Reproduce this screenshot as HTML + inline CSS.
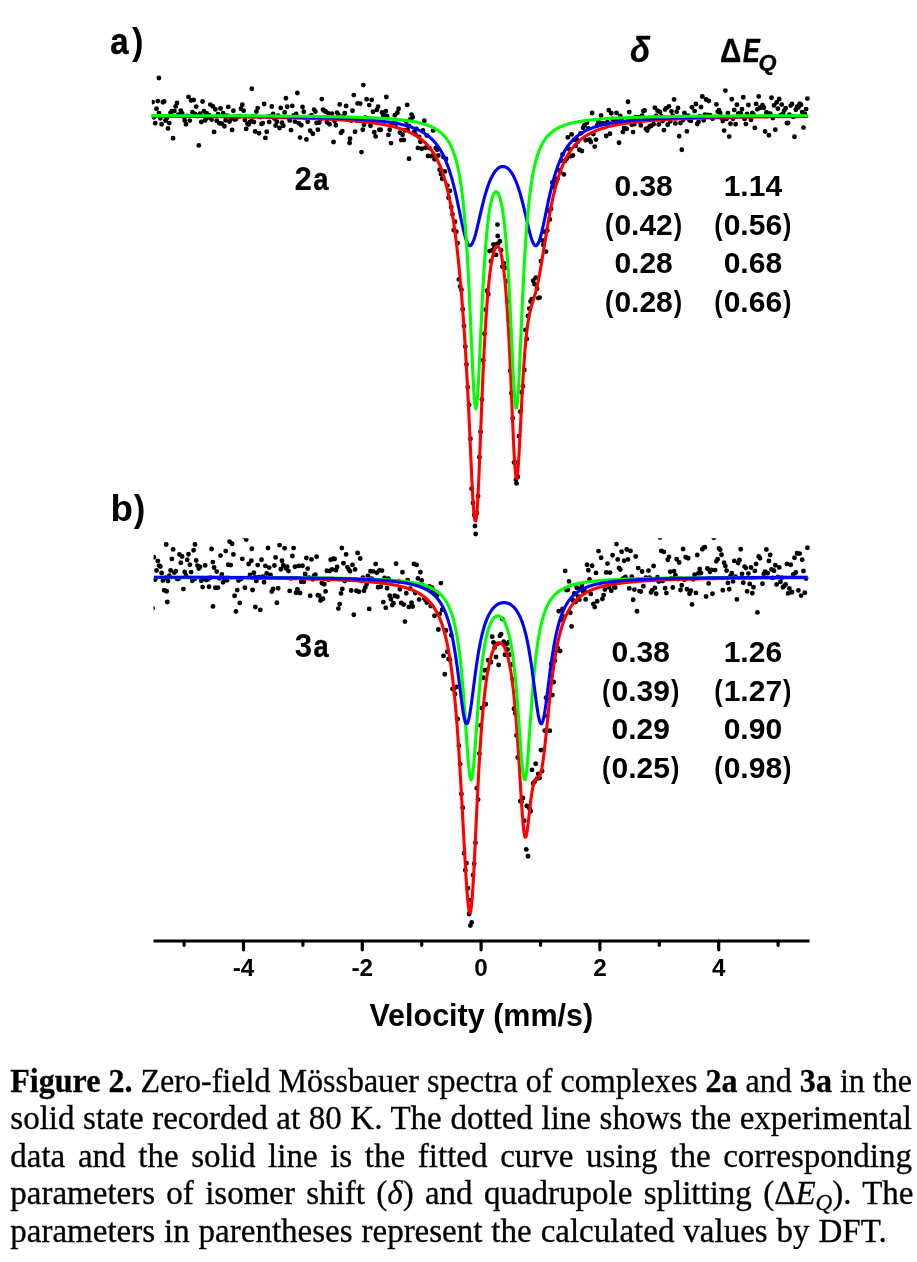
<!DOCTYPE html>
<html><head><meta charset="utf-8"><title>Figure 2</title>
<style>html,body{margin:0;padding:0;background:#fff}svg{display:block;will-change:transform}text{font-family:"Liberation Sans",sans-serif;font-weight:bold;fill:#000}.cap{font-family:"Liberation Serif",serif;font-weight:normal;stroke:#000;stroke-width:0.3px}.cap .b{font-weight:bold}.cap .i{font-style:italic}</style></head><body>
<svg width="917" height="1262" viewBox="0 0 917 1262">
<rect width="917" height="1262" fill="#fff"/>
<clipPath id="clipa"><rect x="151.8" y="0" width="660" height="560"/></clipPath>
<path d="M152.6 102.1h0M153.9 117.3h0M155.2 123.2h0M156.5 108.8h0M157.8 101.1h0M159.0 113.1h0M160.3 118.3h0M161.6 124.2h0M162.9 102.2h0M164.2 101.5h0M165.5 120.5h0M166.7 118.3h0M168.0 128.4h0M169.3 123.1h0M170.6 112.8h0M171.9 111.2h0M173.1 138.2h0M174.4 111.1h0M175.7 106.4h0M177.0 103.0h0M178.3 114.8h0M179.5 115.2h0M180.8 110.6h0M182.1 113.3h0M183.4 116.5h0M184.7 120.5h0M186.0 124.3h0M187.2 115.9h0M188.5 96.9h0M189.8 120.6h0M191.1 100.5h0M192.4 112.3h0M193.6 100.0h0M194.9 114.0h0M196.2 106.6h0M197.5 116.0h0M198.8 145.4h0M200.0 113.6h0M201.3 122.0h0M202.6 101.5h0M203.9 111.3h0M205.2 120.4h0M206.5 113.2h0M207.7 117.6h0M209.0 115.1h0M210.3 104.6h0M211.6 119.5h0M212.9 106.4h0M214.1 131.9h0M215.4 109.4h0M216.7 120.7h0M218.0 114.2h0M219.3 123.2h0M220.5 108.5h0M221.8 123.7h0M223.1 113.1h0M224.4 126.3h0M225.7 120.2h0M227.0 115.6h0M228.2 106.9h0M229.5 121.6h0M230.8 118.8h0M232.1 129.9h0M233.4 110.8h0M234.6 119.6h0M235.9 119.2h0M237.2 117.1h0M238.5 116.4h0M239.8 116.2h0M241.0 108.8h0M242.3 104.8h0M243.6 110.7h0M244.9 120.1h0M246.2 128.9h0M247.5 123.8h0M248.7 124.6h0M250.0 122.0h0M251.3 121.2h0M252.6 116.4h0M253.9 122.0h0M255.1 131.5h0M256.4 111.6h0M257.7 108.1h0M259.0 133.3h0M260.3 117.1h0M261.5 124.0h0M262.8 123.1h0M264.1 104.0h0M265.4 137.9h0M266.7 131.7h0M268.0 116.6h0M269.2 122.0h0M270.5 116.1h0M271.8 106.5h0M273.1 113.9h0M274.4 118.5h0M275.6 125.6h0M276.9 121.8h0M278.2 115.6h0M279.5 128.0h0M280.8 107.9h0M282.0 122.7h0M283.3 125.8h0M284.6 112.4h0M285.9 98.2h0M287.2 106.7h0M288.5 117.6h0M289.7 120.4h0M291.0 130.1h0M292.3 105.9h0M293.6 115.5h0M294.9 121.6h0M296.1 114.0h0M297.4 93.0h0M298.7 123.2h0M300.0 137.6h0M301.3 125.2h0M302.5 107.0h0M303.8 111.8h0M305.1 117.9h0M306.4 139.5h0M307.7 121.7h0M309.0 117.0h0M310.2 130.8h0M311.5 115.2h0M312.8 133.7h0M314.1 109.6h0M315.4 111.6h0M316.6 123.0h0M317.9 129.8h0M319.2 122.5h0M320.5 119.2h0M321.8 99.1h0M323.0 109.7h0M324.3 110.7h0M325.6 111.5h0M326.9 122.2h0M328.2 113.5h0M329.5 124.2h0M330.7 117.6h0M332.0 113.7h0M333.3 118.1h0M334.6 121.1h0M335.9 125.3h0M337.1 112.6h0M338.4 115.0h0M339.7 104.4h0M341.0 132.7h0M342.3 131.3h0M343.5 115.9h0M344.8 113.1h0M346.1 106.0h0M347.4 119.5h0M348.7 119.9h0M350.0 138.8h0M351.2 120.5h0M352.5 110.8h0M353.8 95.1h0M355.1 131.8h0M356.4 120.4h0M357.6 103.4h0M358.9 120.5h0M360.2 103.6h0M361.5 152.1h0M362.8 129.8h0M364.0 124.7h0M365.3 117.8h0M366.6 99.3h0M367.9 118.5h0M369.2 105.1h0M370.5 125.7h0M371.7 99.9h0M373.0 111.8h0M374.3 132.2h0M375.6 136.4h0M376.9 109.7h0M378.1 106.6h0M379.4 129.7h0M380.7 129.7h0M382.0 112.4h0M383.3 115.4h0M384.5 115.6h0M385.8 111.2h0M387.1 116.3h0M388.4 134.9h0M389.7 129.8h0M391.0 143.1h0M392.2 123.1h0M393.5 122.9h0M394.8 115.2h0M396.1 123.7h0M397.4 112.8h0M398.6 108.7h0M399.9 132.6h0M401.2 140.1h0M402.5 134.8h0M403.8 140.0h0M405.0 130.2h0M406.3 121.5h0M407.6 129.7h0M408.9 125.9h0M410.2 119.4h0M411.5 114.6h0M412.7 117.2h0M414.0 131.9h0M415.3 134.2h0M416.6 129.0h0M417.9 147.9h0M419.1 137.0h0M420.4 141.7h0M421.7 148.8h0M423.0 130.5h0M424.3 120.7h0M425.5 147.8h0M426.8 135.5h0M428.1 155.9h0M429.4 148.1h0M430.7 156.1h0M432.0 155.6h0M433.2 130.5h0M434.5 159.2h0M435.8 148.2h0M437.1 149.8h0M438.4 155.5h0M439.6 169.8h0M440.9 174.1h0M442.2 178.7h0M443.5 157.1h0M444.8 171.4h0M446.0 159.0h0M447.3 185.6h0M448.6 197.8h0M449.9 190.9h0M451.2 207.2h0M452.5 214.5h0M453.7 230.1h0M455.0 221.8h0M456.3 231.7h0M457.6 243.3h0M458.9 279.4h0M460.1 286.5h0M461.4 289.7h0M462.7 309.2h0M464.0 326.0h0M465.3 346.6h0M466.5 364.4h0M467.8 387.3h0M469.1 404.9h0M470.4 438.8h0M471.7 488.7h0M473.0 502.9h0M474.2 514.9h0M475.5 516.8h0M476.8 512.9h0M478.1 496.1h0M479.4 457.3h0M480.6 432.0h0M481.9 399.6h0M483.2 360.2h0M484.5 333.8h0M485.8 309.7h0M487.0 290.7h0M488.3 294.2h0M489.6 251.1h0M490.9 261.2h0M492.2 250.3h0M493.5 244.5h0M494.7 247.4h0M496.0 254.9h0M497.3 244.2h0M498.6 243.1h0M499.9 241.3h0M501.1 250.3h0M502.4 266.7h0M503.7 263.2h0M505.0 267.7h0M506.3 281.3h0M507.5 301.2h0M508.8 320.8h0M510.1 370.8h0M511.4 393.3h0M512.7 418.3h0M514.0 462.4h0M515.2 462.5h0M516.5 483.4h0M517.8 476.8h0M519.1 436.2h0M520.4 411.8h0M521.6 392.3h0M522.9 386.3h0M524.2 370.0h0M525.5 329.9h0M526.8 339.0h0M528.0 315.9h0M529.3 308.6h0M530.6 301.5h0M531.9 299.1h0M533.2 280.7h0M534.5 284.3h0M535.7 277.6h0M537.0 288.8h0M538.3 298.1h0M539.6 297.6h0M540.9 261.2h0M542.1 240.4h0M543.4 244.9h0M544.7 231.8h0M546.0 251.6h0M547.3 230.5h0M548.5 210.7h0M549.8 219.5h0M551.1 209.1h0M552.4 182.4h0M553.7 187.0h0M555.0 184.5h0M556.2 182.1h0M557.5 178.7h0M558.8 170.1h0M560.1 171.4h0M561.4 160.5h0M562.6 154.4h0M563.9 174.4h0M565.2 160.7h0M566.5 159.0h0M567.8 137.4h0M569.0 148.9h0M570.3 156.3h0M571.6 134.4h0M572.9 155.5h0M574.2 139.8h0M575.5 145.9h0M576.7 139.4h0M578.0 141.5h0M579.3 149.7h0M580.6 133.4h0M581.9 151.0h0M583.1 127.8h0M584.4 125.5h0M585.7 140.2h0M587.0 122.5h0M588.3 128.4h0M589.5 139.8h0M590.8 142.0h0M592.1 113.0h0M593.4 134.1h0M594.7 146.6h0M596.0 139.6h0M597.2 125.4h0M598.5 121.5h0M599.8 123.9h0M601.1 115.4h0M602.4 123.4h0M603.6 123.7h0M604.9 123.7h0M606.2 136.0h0M607.5 122.2h0M608.8 110.2h0M610.0 133.8h0M611.3 113.3h0M612.6 118.9h0M613.9 121.6h0M615.2 119.4h0M616.5 112.9h0M617.7 119.8h0M619.0 142.7h0M620.3 115.9h0M621.6 120.2h0M622.9 131.9h0M624.1 128.1h0M625.4 128.1h0M626.7 128.9h0M628.0 101.8h0M629.3 112.1h0M630.5 121.4h0M631.8 124.7h0M633.1 132.1h0M634.4 124.1h0M635.7 117.3h0M637.0 119.8h0M638.2 117.2h0M639.5 121.5h0M640.8 125.4h0M642.1 115.6h0M643.4 111.0h0M644.6 110.5h0M645.9 128.9h0M647.2 130.6h0M648.5 127.7h0M649.8 126.3h0M651.0 126.0h0M652.3 118.0h0M653.6 124.2h0M654.9 107.8h0M656.2 115.8h0M657.5 110.6h0M658.7 124.4h0M660.0 111.9h0M661.3 116.3h0M662.6 121.1h0M663.9 130.1h0M665.1 109.6h0M666.4 108.1h0M667.7 124.8h0M669.0 106.4h0M670.3 121.2h0M671.5 111.4h0M672.8 115.7h0M674.1 99.4h0M675.4 123.4h0M676.7 111.8h0M678.0 107.9h0M679.2 136.2h0M680.5 123.1h0M681.8 149.7h0M683.1 120.1h0M684.4 112.9h0M685.6 117.2h0M686.9 131.4h0M688.2 115.8h0M689.5 120.3h0M690.8 120.9h0M692.0 107.3h0M693.3 117.1h0M694.6 111.1h0M695.9 104.0h0M697.2 124.0h0M698.5 122.0h0M699.7 116.4h0M701.0 107.0h0M702.3 96.5h0M703.6 120.2h0M704.9 114.6h0M706.1 99.5h0M707.4 114.9h0M708.7 101.0h0M710.0 115.1h0M711.3 116.7h0M712.5 118.7h0M713.8 117.4h0M715.1 116.9h0M716.4 104.4h0M717.7 111.6h0M719.0 110.3h0M720.2 112.9h0M721.5 117.7h0M722.8 121.0h0M724.1 130.6h0M725.4 90.6h0M726.6 118.8h0M727.9 113.1h0M729.2 136.6h0M730.5 123.8h0M731.8 99.2h0M733.0 118.7h0M734.3 109.9h0M735.6 124.3h0M736.9 104.8h0M738.2 113.8h0M739.5 113.5h0M740.7 113.8h0M742.0 109.2h0M743.3 97.2h0M744.6 119.1h0M745.9 124.1h0M747.1 114.0h0M748.4 105.0h0M749.7 116.5h0M751.0 119.9h0M752.3 112.9h0M753.5 114.4h0M754.8 127.9h0M756.1 103.9h0M757.4 109.2h0M758.7 96.4h0M760.0 107.8h0M761.2 107.4h0M762.5 105.3h0M763.8 107.8h0M765.1 131.5h0M766.4 112.5h0M767.6 113.3h0M768.9 135.2h0M770.2 113.7h0M771.5 97.8h0M772.8 118.1h0M774.0 105.4h0M775.3 129.8h0M776.6 102.4h0M777.9 108.7h0M779.2 99.0h0M780.5 115.1h0M781.7 104.6h0M783.0 113.6h0M784.3 110.6h0M785.6 108.3h0M786.9 123.1h0M788.1 123.0h0M789.4 114.7h0M790.7 105.6h0M792.0 103.9h0M793.3 116.7h0M794.5 136.8h0M795.8 109.7h0M797.1 106.6h0M798.4 107.4h0M799.7 103.6h0M801.0 104.8h0M802.2 112.1h0M803.5 127.6h0M804.8 114.0h0M806.1 109.1h0M807.4 98.6h0M475.0 526.0h0M475.7 534.0h0M516.0 479.6h0M158.9 78.0h0M251.8 88.7h0M363.3 85.1h0M386.3 97.0h0M407.2 104.9h0M333.5 142.0h0M349.6 143.0h0M409.0 158.8h0M497.5 224.6h0M497.7 236.0h0" stroke="#000" stroke-width="4.9" stroke-linecap="round" fill="none" clip-path="url(#clipa)"/>
<path d="M151.8 116.2 L152.8 116.2 L153.8 116.2 L154.8 116.2 L155.8 116.2 L156.8 116.2 L157.8 116.2 L158.8 116.2 L159.8 116.2 L160.8 116.2 L161.8 116.3 L162.8 116.3 L163.8 116.3 L164.8 116.3 L165.8 116.3 L166.8 116.3 L167.8 116.3 L168.8 116.3 L169.8 116.3 L170.8 116.3 L171.8 116.3 L172.8 116.3 L173.8 116.3 L174.8 116.3 L175.8 116.3 L176.8 116.3 L177.8 116.4 L178.8 116.4 L179.8 116.4 L180.8 116.4 L181.8 116.4 L182.8 116.4 L183.8 116.4 L184.8 116.4 L185.8 116.4 L186.8 116.4 L187.8 116.4 L188.8 116.4 L189.8 116.4 L190.8 116.4 L191.8 116.5 L192.8 116.5 L193.8 116.5 L194.8 116.5 L195.8 116.5 L196.8 116.5 L197.8 116.5 L198.8 116.5 L199.8 116.5 L200.8 116.5 L201.8 116.5 L202.8 116.5 L203.8 116.6 L204.8 116.6 L205.8 116.6 L206.8 116.6 L207.8 116.6 L208.8 116.6 L209.8 116.6 L210.8 116.6 L211.8 116.6 L212.8 116.6 L213.8 116.6 L214.8 116.7 L215.8 116.7 L216.8 116.7 L217.8 116.7 L218.8 116.7 L219.8 116.7 L220.8 116.7 L221.8 116.7 L222.8 116.7 L223.8 116.7 L224.8 116.8 L225.8 116.8 L226.8 116.8 L227.8 116.8 L228.8 116.8 L229.8 116.8 L230.8 116.8 L231.8 116.8 L232.8 116.8 L233.8 116.9 L234.8 116.9 L235.8 116.9 L236.8 116.9 L237.8 116.9 L238.8 116.9 L239.8 116.9 L240.8 116.9 L241.8 117.0 L242.8 117.0 L243.8 117.0 L244.8 117.0 L245.8 117.0 L246.8 117.0 L247.8 117.0 L248.8 117.1 L249.8 117.1 L250.8 117.1 L251.8 117.1 L252.8 117.1 L253.8 117.1 L254.8 117.1 L255.8 117.2 L256.8 117.2 L257.8 117.2 L258.8 117.2 L259.8 117.2 L260.8 117.2 L261.8 117.3 L262.8 117.3 L263.8 117.3 L264.8 117.3 L265.8 117.3 L266.8 117.3 L267.8 117.4 L268.8 117.4 L269.8 117.4 L270.8 117.4 L271.8 117.4 L272.8 117.5 L273.8 117.5 L274.8 117.5 L275.8 117.5 L276.8 117.5 L277.8 117.6 L278.8 117.6 L279.8 117.6 L280.8 117.6 L281.8 117.7 L282.8 117.7 L283.8 117.7 L284.8 117.7 L285.8 117.7 L286.8 117.8 L287.8 117.8 L288.8 117.8 L289.8 117.8 L290.8 117.9 L291.8 117.9 L292.8 117.9 L293.8 118.0 L294.8 118.0 L295.8 118.0 L296.8 118.0 L297.8 118.1 L298.8 118.1 L299.8 118.1 L300.8 118.2 L301.8 118.2 L302.8 118.2 L303.8 118.2 L304.8 118.3 L305.8 118.3 L306.8 118.3 L307.8 118.4 L308.8 118.4 L309.8 118.4 L310.8 118.5 L311.8 118.5 L312.8 118.6 L313.8 118.6 L314.8 118.6 L315.8 118.7 L316.8 118.7 L317.8 118.7 L318.8 118.8 L319.8 118.8 L320.8 118.9 L321.8 118.9 L322.8 119.0 L323.8 119.0 L324.8 119.0 L325.8 119.1 L326.8 119.1 L327.8 119.2 L328.8 119.2 L329.8 119.3 L330.8 119.3 L331.8 119.4 L332.8 119.4 L333.8 119.5 L334.8 119.5 L335.8 119.6 L336.8 119.7 L337.8 119.7 L338.8 119.8 L339.8 119.8 L340.8 119.9 L341.8 120.0 L342.8 120.0 L343.8 120.1 L344.8 120.2 L345.8 120.2 L346.8 120.3 L347.8 120.4 L348.8 120.4 L349.8 120.5 L350.8 120.6 L351.8 120.7 L352.8 120.8 L353.8 120.8 L354.8 120.9 L355.8 121.0 L356.8 121.1 L357.8 121.2 L358.8 121.3 L359.8 121.4 L360.8 121.5 L361.8 121.6 L362.8 121.7 L363.8 121.8 L364.8 121.9 L365.8 122.0 L366.8 122.1 L367.8 122.2 L368.8 122.4 L369.8 122.5 L370.8 122.6 L371.8 122.7 L372.8 122.9 L373.8 123.0 L374.8 123.1 L375.8 123.3 L376.8 123.4 L377.8 123.6 L378.8 123.7 L379.8 123.9 L380.8 124.1 L381.8 124.2 L382.8 124.4 L383.8 124.6 L384.8 124.8 L385.8 125.0 L386.8 125.2 L387.8 125.4 L388.8 125.6 L389.8 125.8 L390.8 126.0 L391.8 126.3 L392.8 126.5 L393.8 126.8 L394.8 127.0 L395.8 127.3 L396.8 127.6 L397.8 127.9 L398.8 128.2 L399.8 128.5 L400.8 128.8 L401.8 129.1 L402.8 129.5 L403.8 129.8 L404.8 130.2 L405.8 130.6 L406.8 131.0 L407.8 131.4 L408.8 131.9 L409.8 132.3 L410.8 132.8 L411.8 133.3 L412.8 133.8 L413.8 134.4 L414.8 135.0 L415.8 135.5 L416.8 136.2 L417.8 136.8 L418.8 137.5 L419.8 138.2 L420.8 139.0 L421.8 139.8 L422.8 140.6 L423.8 141.5 L424.8 142.4 L425.8 143.4 L426.8 144.5 L427.8 145.6 L428.8 146.7 L429.8 147.9 L430.8 149.2 L431.8 150.6 L432.8 152.1 L433.8 153.6 L434.8 155.3 L435.8 157.1 L436.8 159.0 L437.8 161.0 L438.8 163.1 L439.8 165.4 L440.8 167.9 L441.8 170.5 L442.8 173.3 L443.8 176.4 L444.8 179.6 L445.8 183.2 L446.8 187.0 L447.8 191.0 L448.8 195.5 L449.8 200.2 L450.8 205.4 L451.8 210.9 L452.8 217.0 L453.8 223.5 L454.8 230.5 L455.8 238.1 L456.8 246.3 L457.8 255.1 L458.8 264.7 L459.8 275.0 L460.8 286.0 L461.8 298.0 L462.8 310.9 L463.8 324.7 L464.8 339.7 L465.8 356.0 L466.8 373.5 L467.8 392.4 L468.8 412.8 L469.8 434.3 L470.8 456.5 L471.8 478.2 L472.8 497.7 L473.8 512.5 L474.8 520.2 L475.8 520.9 L476.8 514.8 L477.8 500.5 L478.8 479.5 L479.8 454.7 L480.8 428.5 L481.8 402.8 L482.8 378.9 L483.8 357.2 L484.8 338.0 L485.8 321.2 L486.8 306.6 L487.8 294.1 L488.8 283.4 L489.8 274.4 L490.8 266.8 L491.8 260.6 L492.8 255.6 L493.8 251.7 L494.8 248.8 L495.8 247.0 L496.8 246.1 L497.8 246.2 L498.8 247.3 L499.8 249.4 L500.8 252.7 L501.8 257.1 L502.8 262.9 L503.8 270.2 L504.8 279.2 L505.8 290.1 L506.8 303.0 L507.8 318.3 L508.8 336.0 L509.8 356.2 L510.8 378.5 L511.8 402.2 L512.8 426.0 L513.8 448.0 L514.8 465.6 L515.8 476.4 L516.8 478.4 L517.8 471.6 L518.8 458.0 L519.8 440.1 L520.8 420.3 L521.8 400.6 L522.8 382.3 L523.8 366.1 L524.8 352.2 L525.8 340.7 L526.8 331.3 L527.8 323.7 L528.8 317.6 L529.8 312.6 L530.8 308.5 L531.8 305.0 L532.8 301.7 L533.8 298.5 L534.8 295.2 L535.8 291.6 L536.8 287.6 L537.8 283.1 L538.8 278.3 L539.8 272.9 L540.8 267.3 L541.8 261.3 L542.8 255.2 L543.8 248.9 L544.8 242.7 L545.8 236.4 L546.8 230.3 L547.8 224.4 L548.8 218.7 L549.8 213.2 L550.8 208.0 L551.8 203.1 L552.8 198.4 L553.8 194.0 L554.8 189.9 L555.8 186.0 L556.8 182.4 L557.8 179.0 L558.8 175.8 L559.8 172.9 L560.8 170.1 L561.8 167.5 L562.8 165.0 L563.8 162.8 L564.8 160.6 L565.8 158.6 L566.8 156.8 L567.8 155.0 L568.8 153.3 L569.8 151.8 L570.8 150.3 L571.8 148.9 L572.8 147.6 L573.8 146.4 L574.8 145.3 L575.8 144.2 L576.8 143.1 L577.8 142.2 L578.8 141.2 L579.8 140.3 L580.8 139.5 L581.8 138.7 L582.8 138.0 L583.8 137.2 L584.8 136.6 L585.8 135.9 L586.8 135.3 L587.8 134.7 L588.8 134.1 L589.8 133.6 L590.8 133.1 L591.8 132.6 L592.8 132.1 L593.8 131.6 L594.8 131.2 L595.8 130.8 L596.8 130.4 L597.8 130.0 L598.8 129.6 L599.8 129.3 L600.8 128.9 L601.8 128.6 L602.8 128.3 L603.8 128.0 L604.8 127.7 L605.8 127.4 L606.8 127.1 L607.8 126.8 L608.8 126.6 L609.8 126.3 L610.8 126.1 L611.8 125.9 L612.8 125.6 L613.8 125.4 L614.8 125.2 L615.8 125.0 L616.8 124.8 L617.8 124.6 L618.8 124.4 L619.8 124.3 L620.8 124.1 L621.8 123.9 L622.8 123.8 L623.8 123.6 L624.8 123.4 L625.8 123.3 L626.8 123.2 L627.8 123.0 L628.8 122.9 L629.8 122.7 L630.8 122.6 L631.8 122.5 L632.8 122.4 L633.8 122.2 L634.8 122.1 L635.8 122.0 L636.8 121.9 L637.8 121.8 L638.8 121.7 L639.8 121.6 L640.8 121.5 L641.8 121.4 L642.8 121.3 L643.8 121.2 L644.8 121.1 L645.8 121.0 L646.8 120.9 L647.8 120.8 L648.8 120.8 L649.8 120.7 L650.8 120.6 L651.8 120.5 L652.8 120.4 L653.8 120.4 L654.8 120.3 L655.8 120.2 L656.8 120.2 L657.8 120.1 L658.8 120.0 L659.8 120.0 L660.8 119.9 L661.8 119.8 L662.8 119.8 L663.8 119.7 L664.8 119.7 L665.8 119.6 L666.8 119.5 L667.8 119.5 L668.8 119.4 L669.8 119.4 L670.8 119.3 L671.8 119.3 L672.8 119.2 L673.8 119.2 L674.8 119.1 L675.8 119.1 L676.8 119.0 L677.8 119.0 L678.8 118.9 L679.8 118.9 L680.8 118.9 L681.8 118.8 L682.8 118.8 L683.8 118.7 L684.8 118.7 L685.8 118.7 L686.8 118.6 L687.8 118.6 L688.8 118.5 L689.8 118.5 L690.8 118.5 L691.8 118.4 L692.8 118.4 L693.8 118.4 L694.8 118.3 L695.8 118.3 L696.8 118.3 L697.8 118.2 L698.8 118.2 L699.8 118.2 L700.8 118.1 L701.8 118.1 L702.8 118.1 L703.8 118.1 L704.8 118.0 L705.8 118.0 L706.8 118.0 L707.8 117.9 L708.8 117.9 L709.8 117.9 L710.8 117.9 L711.8 117.8 L712.8 117.8 L713.8 117.8 L714.8 117.8 L715.8 117.7 L716.8 117.7 L717.8 117.7 L718.8 117.7 L719.8 117.6 L720.8 117.6 L721.8 117.6 L722.8 117.6 L723.8 117.6 L724.8 117.5 L725.8 117.5 L726.8 117.5 L727.8 117.5 L728.8 117.5 L729.8 117.4 L730.8 117.4 L731.8 117.4 L732.8 117.4 L733.8 117.4 L734.8 117.3 L735.8 117.3 L736.8 117.3 L737.8 117.3 L738.8 117.3 L739.8 117.3 L740.8 117.2 L741.8 117.2 L742.8 117.2 L743.8 117.2 L744.8 117.2 L745.8 117.2 L746.8 117.1 L747.8 117.1 L748.8 117.1 L749.8 117.1 L750.8 117.1 L751.8 117.1 L752.8 117.1 L753.8 117.0 L754.8 117.0 L755.8 117.0 L756.8 117.0 L757.8 117.0 L758.8 117.0 L759.8 117.0 L760.8 116.9 L761.8 116.9 L762.8 116.9 L763.8 116.9 L764.8 116.9 L765.8 116.9 L766.8 116.9 L767.8 116.9 L768.8 116.8 L769.8 116.8 L770.8 116.8 L771.8 116.8 L772.8 116.8 L773.8 116.8 L774.8 116.8 L775.8 116.8 L776.8 116.8 L777.8 116.7 L778.8 116.7 L779.8 116.7 L780.8 116.7 L781.8 116.7 L782.8 116.7 L783.8 116.7 L784.8 116.7 L785.8 116.7 L786.8 116.6 L787.8 116.6 L788.8 116.6 L789.8 116.6 L790.8 116.6 L791.8 116.6 L792.8 116.6 L793.8 116.6 L794.8 116.6 L795.8 116.6 L796.8 116.6 L797.8 116.5 L798.8 116.5 L799.8 116.5 L800.8 116.5 L801.8 116.5 L802.8 116.5 L803.8 116.5 L804.8 116.5 L805.8 116.5 L806.8 116.5 L807.5 116.5" stroke="#ff0000" stroke-width="3.1" fill="none" stroke-linejoin="round"/>
<path d="M151.8 115.9 L152.8 115.9 L153.8 115.9 L154.8 115.9 L155.8 115.9 L156.8 115.9 L157.8 115.9 L158.8 115.9 L159.8 115.9 L160.8 115.9 L161.8 115.9 L162.8 115.9 L163.8 115.9 L164.8 115.9 L165.8 115.9 L166.8 115.9 L167.8 115.9 L168.8 116.0 L169.8 116.0 L170.8 116.0 L171.8 116.0 L172.8 116.0 L173.8 116.0 L174.8 116.0 L175.8 116.0 L176.8 116.0 L177.8 116.0 L178.8 116.0 L179.8 116.0 L180.8 116.0 L181.8 116.0 L182.8 116.0 L183.8 116.0 L184.8 116.0 L185.8 116.0 L186.8 116.0 L187.8 116.0 L188.8 116.0 L189.8 116.0 L190.8 116.1 L191.8 116.1 L192.8 116.1 L193.8 116.1 L194.8 116.1 L195.8 116.1 L196.8 116.1 L197.8 116.1 L198.8 116.1 L199.8 116.1 L200.8 116.1 L201.8 116.1 L202.8 116.1 L203.8 116.1 L204.8 116.1 L205.8 116.1 L206.8 116.1 L207.8 116.1 L208.8 116.2 L209.8 116.2 L210.8 116.2 L211.8 116.2 L212.8 116.2 L213.8 116.2 L214.8 116.2 L215.8 116.2 L216.8 116.2 L217.8 116.2 L218.8 116.2 L219.8 116.2 L220.8 116.2 L221.8 116.2 L222.8 116.2 L223.8 116.2 L224.8 116.3 L225.8 116.3 L226.8 116.3 L227.8 116.3 L228.8 116.3 L229.8 116.3 L230.8 116.3 L231.8 116.3 L232.8 116.3 L233.8 116.3 L234.8 116.3 L235.8 116.3 L236.8 116.3 L237.8 116.4 L238.8 116.4 L239.8 116.4 L240.8 116.4 L241.8 116.4 L242.8 116.4 L243.8 116.4 L244.8 116.4 L245.8 116.4 L246.8 116.4 L247.8 116.4 L248.8 116.5 L249.8 116.5 L250.8 116.5 L251.8 116.5 L252.8 116.5 L253.8 116.5 L254.8 116.5 L255.8 116.5 L256.8 116.5 L257.8 116.5 L258.8 116.6 L259.8 116.6 L260.8 116.6 L261.8 116.6 L262.8 116.6 L263.8 116.6 L264.8 116.6 L265.8 116.6 L266.8 116.6 L267.8 116.7 L268.8 116.7 L269.8 116.7 L270.8 116.7 L271.8 116.7 L272.8 116.7 L273.8 116.7 L274.8 116.7 L275.8 116.8 L276.8 116.8 L277.8 116.8 L278.8 116.8 L279.8 116.8 L280.8 116.8 L281.8 116.8 L282.8 116.9 L283.8 116.9 L284.8 116.9 L285.8 116.9 L286.8 116.9 L287.8 116.9 L288.8 117.0 L289.8 117.0 L290.8 117.0 L291.8 117.0 L292.8 117.0 L293.8 117.0 L294.8 117.1 L295.8 117.1 L296.8 117.1 L297.8 117.1 L298.8 117.1 L299.8 117.2 L300.8 117.2 L301.8 117.2 L302.8 117.2 L303.8 117.2 L304.8 117.3 L305.8 117.3 L306.8 117.3 L307.8 117.3 L308.8 117.3 L309.8 117.4 L310.8 117.4 L311.8 117.4 L312.8 117.4 L313.8 117.5 L314.8 117.5 L315.8 117.5 L316.8 117.5 L317.8 117.6 L318.8 117.6 L319.8 117.6 L320.8 117.6 L321.8 117.7 L322.8 117.7 L323.8 117.7 L324.8 117.8 L325.8 117.8 L326.8 117.8 L327.8 117.9 L328.8 117.9 L329.8 117.9 L330.8 118.0 L331.8 118.0 L332.8 118.0 L333.8 118.1 L334.8 118.1 L335.8 118.1 L336.8 118.2 L337.8 118.2 L338.8 118.2 L339.8 118.3 L340.8 118.3 L341.8 118.4 L342.8 118.4 L343.8 118.5 L344.8 118.5 L345.8 118.5 L346.8 118.6 L347.8 118.6 L348.8 118.7 L349.8 118.7 L350.8 118.8 L351.8 118.8 L352.8 118.9 L353.8 118.9 L354.8 119.0 L355.8 119.1 L356.8 119.1 L357.8 119.2 L358.8 119.2 L359.8 119.3 L360.8 119.4 L361.8 119.4 L362.8 119.5 L363.8 119.6 L364.8 119.6 L365.8 119.7 L366.8 119.8 L367.8 119.9 L368.8 119.9 L369.8 120.0 L370.8 120.1 L371.8 120.2 L372.8 120.3 L373.8 120.4 L374.8 120.5 L375.8 120.6 L376.8 120.7 L377.8 120.8 L378.8 120.9 L379.8 121.0 L380.8 121.1 L381.8 121.2 L382.8 121.3 L383.8 121.4 L384.8 121.6 L385.8 121.7 L386.8 121.8 L387.8 122.0 L388.8 122.1 L389.8 122.3 L390.8 122.4 L391.8 122.6 L392.8 122.7 L393.8 122.9 L394.8 123.1 L395.8 123.3 L396.8 123.4 L397.8 123.6 L398.8 123.8 L399.8 124.0 L400.8 124.3 L401.8 124.5 L402.8 124.7 L403.8 125.0 L404.8 125.2 L405.8 125.5 L406.8 125.8 L407.8 126.0 L408.8 126.3 L409.8 126.7 L410.8 127.0 L411.8 127.3 L412.8 127.7 L413.8 128.0 L414.8 128.4 L415.8 128.8 L416.8 129.3 L417.8 129.7 L418.8 130.2 L419.8 130.7 L420.8 131.2 L421.8 131.7 L422.8 132.3 L423.8 132.9 L424.8 133.5 L425.8 134.2 L426.8 134.9 L427.8 135.6 L428.8 136.4 L429.8 137.3 L430.8 138.1 L431.8 139.1 L432.8 140.1 L433.8 141.1 L434.8 142.2 L435.8 143.4 L436.8 144.7 L437.8 146.1 L438.8 147.5 L439.8 149.0 L440.8 150.7 L441.8 152.5 L442.8 154.3 L443.8 156.3 L444.8 158.5 L445.8 160.8 L446.8 163.3 L447.8 165.9 L448.8 168.7 L449.8 171.8 L450.8 175.0 L451.8 178.4 L452.8 182.0 L453.8 185.9 L454.8 190.0 L455.8 194.2 L456.8 198.7 L457.8 203.3 L458.8 208.1 L459.8 212.9 L460.8 217.7 L461.8 222.5 L462.8 227.1 L463.8 231.4 L464.8 235.4 L465.8 238.9 L466.8 241.7 L467.8 243.9 L468.8 245.2 L469.8 245.8 L470.8 245.5 L471.8 244.4 L472.8 242.5 L473.8 240.0 L474.8 236.9 L475.8 233.3 L476.8 229.3 L477.8 225.1 L478.8 220.8 L479.8 216.4 L480.8 212.1 L481.8 207.9 L482.8 203.8 L483.8 199.9 L484.8 196.2 L485.8 192.7 L486.8 189.5 L487.8 186.5 L488.8 183.7 L489.8 181.2 L490.8 178.9 L491.8 176.8 L492.8 175.0 L493.8 173.3 L494.8 171.8 L495.8 170.6 L496.8 169.5 L497.8 168.5 L498.8 167.8 L499.8 167.2 L500.8 166.8 L501.8 166.6 L502.8 166.5 L503.8 166.6 L504.8 166.8 L505.8 167.2 L506.8 167.7 L507.8 168.5 L508.8 169.4 L509.8 170.4 L510.8 171.7 L511.8 173.1 L512.8 174.8 L513.8 176.6 L514.8 178.7 L515.8 181.0 L516.8 183.5 L517.8 186.2 L518.8 189.2 L519.8 192.4 L520.8 195.8 L521.8 199.5 L522.8 203.4 L523.8 207.5 L524.8 211.7 L525.8 216.0 L526.8 220.4 L527.8 224.7 L528.8 228.9 L529.8 232.9 L530.8 236.5 L531.8 239.7 L532.8 242.3 L533.8 244.3 L534.8 245.4 L535.8 245.8 L536.8 245.3 L537.8 244.0 L538.8 242.0 L539.8 239.2 L540.8 235.8 L541.8 231.9 L542.8 227.6 L543.8 223.0 L544.8 218.2 L545.8 213.4 L546.8 208.6 L547.8 203.8 L548.8 199.2 L549.8 194.7 L550.8 190.4 L551.8 186.3 L552.8 182.4 L553.8 178.8 L554.8 175.3 L555.8 172.1 L556.8 169.0 L557.8 166.2 L558.8 163.5 L559.8 161.0 L560.8 158.7 L561.8 156.6 L562.8 154.5 L563.8 152.6 L564.8 150.9 L565.8 149.2 L566.8 147.7 L567.8 146.2 L568.8 144.8 L569.8 143.6 L570.8 142.4 L571.8 141.2 L572.8 140.2 L573.8 139.2 L574.8 138.2 L575.8 137.3 L576.8 136.5 L577.8 135.7 L578.8 135.0 L579.8 134.3 L580.8 133.6 L581.8 132.9 L582.8 132.3 L583.8 131.8 L584.8 131.2 L585.8 130.7 L586.8 130.2 L587.8 129.7 L588.8 129.3 L589.8 128.9 L590.8 128.5 L591.8 128.1 L592.8 127.7 L593.8 127.3 L594.8 127.0 L595.8 126.7 L596.8 126.4 L597.8 126.1 L598.8 125.8 L599.8 125.5 L600.8 125.2 L601.8 125.0 L602.8 124.7 L603.8 124.5 L604.8 124.3 L605.8 124.1 L606.8 123.9 L607.8 123.7 L608.8 123.5 L609.8 123.3 L610.8 123.1 L611.8 122.9 L612.8 122.8 L613.8 122.6 L614.8 122.4 L615.8 122.3 L616.8 122.1 L617.8 122.0 L618.8 121.8 L619.8 121.7 L620.8 121.6 L621.8 121.5 L622.8 121.3 L623.8 121.2 L624.8 121.1 L625.8 121.0 L626.8 120.9 L627.8 120.8 L628.8 120.7 L629.8 120.6 L630.8 120.5 L631.8 120.4 L632.8 120.3 L633.8 120.2 L634.8 120.1 L635.8 120.0 L636.8 120.0 L637.8 119.9 L638.8 119.8 L639.8 119.7 L640.8 119.7 L641.8 119.6 L642.8 119.5 L643.8 119.4 L644.8 119.4 L645.8 119.3 L646.8 119.2 L647.8 119.2 L648.8 119.1 L649.8 119.1 L650.8 119.0 L651.8 119.0 L652.8 118.9 L653.8 118.8 L654.8 118.8 L655.8 118.7 L656.8 118.7 L657.8 118.6 L658.8 118.6 L659.8 118.5 L660.8 118.5 L661.8 118.5 L662.8 118.4 L663.8 118.4 L664.8 118.3 L665.8 118.3 L666.8 118.2 L667.8 118.2 L668.8 118.2 L669.8 118.1 L670.8 118.1 L671.8 118.1 L672.8 118.0 L673.8 118.0 L674.8 118.0 L675.8 117.9 L676.8 117.9 L677.8 117.9 L678.8 117.8 L679.8 117.8 L680.8 117.8 L681.8 117.7 L682.8 117.7 L683.8 117.7 L684.8 117.6 L685.8 117.6 L686.8 117.6 L687.8 117.6 L688.8 117.5 L689.8 117.5 L690.8 117.5 L691.8 117.5 L692.8 117.4 L693.8 117.4 L694.8 117.4 L695.8 117.4 L696.8 117.3 L697.8 117.3 L698.8 117.3 L699.8 117.3 L700.8 117.3 L701.8 117.2 L702.8 117.2 L703.8 117.2 L704.8 117.2 L705.8 117.2 L706.8 117.1 L707.8 117.1 L708.8 117.1 L709.8 117.1 L710.8 117.1 L711.8 117.0 L712.8 117.0 L713.8 117.0 L714.8 117.0 L715.8 117.0 L716.8 117.0 L717.8 116.9 L718.8 116.9 L719.8 116.9 L720.8 116.9 L721.8 116.9 L722.8 116.9 L723.8 116.8 L724.8 116.8 L725.8 116.8 L726.8 116.8 L727.8 116.8 L728.8 116.8 L729.8 116.8 L730.8 116.7 L731.8 116.7 L732.8 116.7 L733.8 116.7 L734.8 116.7 L735.8 116.7 L736.8 116.7 L737.8 116.7 L738.8 116.6 L739.8 116.6 L740.8 116.6 L741.8 116.6 L742.8 116.6 L743.8 116.6 L744.8 116.6 L745.8 116.6 L746.8 116.6 L747.8 116.5 L748.8 116.5 L749.8 116.5 L750.8 116.5 L751.8 116.5 L752.8 116.5 L753.8 116.5 L754.8 116.5 L755.8 116.5 L756.8 116.5 L757.8 116.4 L758.8 116.4 L759.8 116.4 L760.8 116.4 L761.8 116.4 L762.8 116.4 L763.8 116.4 L764.8 116.4 L765.8 116.4 L766.8 116.4 L767.8 116.4 L768.8 116.3 L769.8 116.3 L770.8 116.3 L771.8 116.3 L772.8 116.3 L773.8 116.3 L774.8 116.3 L775.8 116.3 L776.8 116.3 L777.8 116.3 L778.8 116.3 L779.8 116.3 L780.8 116.3 L781.8 116.2 L782.8 116.2 L783.8 116.2 L784.8 116.2 L785.8 116.2 L786.8 116.2 L787.8 116.2 L788.8 116.2 L789.8 116.2 L790.8 116.2 L791.8 116.2 L792.8 116.2 L793.8 116.2 L794.8 116.2 L795.8 116.2 L796.8 116.2 L797.8 116.1 L798.8 116.1 L799.8 116.1 L800.8 116.1 L801.8 116.1 L802.8 116.1 L803.8 116.1 L804.8 116.1 L805.8 116.1 L806.8 116.1 L807.5 116.1" stroke="#0000ff" stroke-width="3.1" fill="none" stroke-linejoin="round"/>
<path d="M151.8 115.6 L152.8 115.6 L153.8 115.6 L154.8 115.6 L155.8 115.6 L156.8 115.6 L157.8 115.6 L158.8 115.6 L159.8 115.6 L160.8 115.6 L161.8 115.6 L162.8 115.6 L163.8 115.6 L164.8 115.6 L165.8 115.6 L166.8 115.6 L167.8 115.6 L168.8 115.6 L169.8 115.6 L170.8 115.6 L171.8 115.6 L172.8 115.7 L173.8 115.7 L174.8 115.7 L175.8 115.7 L176.8 115.7 L177.8 115.7 L178.8 115.7 L179.8 115.7 L180.8 115.7 L181.8 115.7 L182.8 115.7 L183.8 115.7 L184.8 115.7 L185.8 115.7 L186.8 115.7 L187.8 115.7 L188.8 115.7 L189.8 115.7 L190.8 115.7 L191.8 115.7 L192.8 115.7 L193.8 115.7 L194.8 115.7 L195.8 115.7 L196.8 115.7 L197.8 115.7 L198.8 115.7 L199.8 115.7 L200.8 115.7 L201.8 115.7 L202.8 115.7 L203.8 115.7 L204.8 115.7 L205.8 115.7 L206.8 115.7 L207.8 115.7 L208.8 115.7 L209.8 115.7 L210.8 115.8 L211.8 115.8 L212.8 115.8 L213.8 115.8 L214.8 115.8 L215.8 115.8 L216.8 115.8 L217.8 115.8 L218.8 115.8 L219.8 115.8 L220.8 115.8 L221.8 115.8 L222.8 115.8 L223.8 115.8 L224.8 115.8 L225.8 115.8 L226.8 115.8 L227.8 115.8 L228.8 115.8 L229.8 115.8 L230.8 115.8 L231.8 115.8 L232.8 115.8 L233.8 115.8 L234.8 115.8 L235.8 115.8 L236.8 115.8 L237.8 115.9 L238.8 115.9 L239.8 115.9 L240.8 115.9 L241.8 115.9 L242.8 115.9 L243.8 115.9 L244.8 115.9 L245.8 115.9 L246.8 115.9 L247.8 115.9 L248.8 115.9 L249.8 115.9 L250.8 115.9 L251.8 115.9 L252.8 115.9 L253.8 115.9 L254.8 115.9 L255.8 115.9 L256.8 115.9 L257.8 116.0 L258.8 116.0 L259.8 116.0 L260.8 116.0 L261.8 116.0 L262.8 116.0 L263.8 116.0 L264.8 116.0 L265.8 116.0 L266.8 116.0 L267.8 116.0 L268.8 116.0 L269.8 116.0 L270.8 116.0 L271.8 116.0 L272.8 116.0 L273.8 116.1 L274.8 116.1 L275.8 116.1 L276.8 116.1 L277.8 116.1 L278.8 116.1 L279.8 116.1 L280.8 116.1 L281.8 116.1 L282.8 116.1 L283.8 116.1 L284.8 116.1 L285.8 116.1 L286.8 116.1 L287.8 116.2 L288.8 116.2 L289.8 116.2 L290.8 116.2 L291.8 116.2 L292.8 116.2 L293.8 116.2 L294.8 116.2 L295.8 116.2 L296.8 116.2 L297.8 116.2 L298.8 116.3 L299.8 116.3 L300.8 116.3 L301.8 116.3 L302.8 116.3 L303.8 116.3 L304.8 116.3 L305.8 116.3 L306.8 116.3 L307.8 116.4 L308.8 116.4 L309.8 116.4 L310.8 116.4 L311.8 116.4 L312.8 116.4 L313.8 116.4 L314.8 116.4 L315.8 116.5 L316.8 116.5 L317.8 116.5 L318.8 116.5 L319.8 116.5 L320.8 116.5 L321.8 116.5 L322.8 116.6 L323.8 116.6 L324.8 116.6 L325.8 116.6 L326.8 116.6 L327.8 116.6 L328.8 116.6 L329.8 116.7 L330.8 116.7 L331.8 116.7 L332.8 116.7 L333.8 116.7 L334.8 116.8 L335.8 116.8 L336.8 116.8 L337.8 116.8 L338.8 116.8 L339.8 116.9 L340.8 116.9 L341.8 116.9 L342.8 116.9 L343.8 116.9 L344.8 117.0 L345.8 117.0 L346.8 117.0 L347.8 117.0 L348.8 117.1 L349.8 117.1 L350.8 117.1 L351.8 117.1 L352.8 117.2 L353.8 117.2 L354.8 117.2 L355.8 117.3 L356.8 117.3 L357.8 117.3 L358.8 117.3 L359.8 117.4 L360.8 117.4 L361.8 117.4 L362.8 117.5 L363.8 117.5 L364.8 117.5 L365.8 117.6 L366.8 117.6 L367.8 117.7 L368.8 117.7 L369.8 117.7 L370.8 117.8 L371.8 117.8 L372.8 117.9 L373.8 117.9 L374.8 118.0 L375.8 118.0 L376.8 118.1 L377.8 118.1 L378.8 118.2 L379.8 118.2 L380.8 118.3 L381.8 118.3 L382.8 118.4 L383.8 118.5 L384.8 118.5 L385.8 118.6 L386.8 118.6 L387.8 118.7 L388.8 118.8 L389.8 118.9 L390.8 118.9 L391.8 119.0 L392.8 119.1 L393.8 119.2 L394.8 119.3 L395.8 119.3 L396.8 119.4 L397.8 119.5 L398.8 119.6 L399.8 119.7 L400.8 119.8 L401.8 119.9 L402.8 120.1 L403.8 120.2 L404.8 120.3 L405.8 120.4 L406.8 120.6 L407.8 120.7 L408.8 120.8 L409.8 121.0 L410.8 121.1 L411.8 121.3 L412.8 121.5 L413.8 121.6 L414.8 121.8 L415.8 122.0 L416.8 122.2 L417.8 122.4 L418.8 122.7 L419.8 122.9 L420.8 123.1 L421.8 123.4 L422.8 123.7 L423.8 123.9 L424.8 124.2 L425.8 124.6 L426.8 124.9 L427.8 125.2 L428.8 125.6 L429.8 126.0 L430.8 126.4 L431.8 126.9 L432.8 127.3 L433.8 127.8 L434.8 128.4 L435.8 128.9 L436.8 129.6 L437.8 130.2 L438.8 130.9 L439.8 131.7 L440.8 132.5 L441.8 133.4 L442.8 134.3 L443.8 135.3 L444.8 136.5 L445.8 137.7 L446.8 139.0 L447.8 140.5 L448.8 142.1 L449.8 143.8 L450.8 145.7 L451.8 147.9 L452.8 150.3 L453.8 152.9 L454.8 155.9 L455.8 159.2 L456.8 162.9 L457.8 167.2 L458.8 172.0 L459.8 177.4 L460.8 183.7 L461.8 190.9 L462.8 199.2 L463.8 208.8 L464.8 219.8 L465.8 232.6 L466.8 247.4 L467.8 264.2 L468.8 283.3 L469.8 304.5 L470.8 327.2 L471.8 350.5 L472.8 372.6 L473.8 391.2 L474.8 404.0 L475.8 408.8 L476.8 405.0 L477.8 393.3 L478.8 375.6 L479.8 354.6 L480.8 332.4 L481.8 310.8 L482.8 290.8 L483.8 272.9 L484.8 257.3 L485.8 243.9 L486.8 232.5 L487.8 223.0 L488.8 215.1 L489.8 208.6 L490.8 203.3 L491.8 199.1 L492.8 196.0 L493.8 193.7 L494.8 192.3 L495.8 191.7 L496.8 191.9 L497.8 192.9 L498.8 194.7 L499.8 197.4 L500.8 201.1 L501.8 205.8 L502.8 211.7 L503.8 218.9 L504.8 227.6 L505.8 238.0 L506.8 250.3 L507.8 264.8 L508.8 281.6 L509.8 300.5 L510.8 321.4 L511.8 343.5 L512.8 365.4 L513.8 385.0 L514.8 400.0 L515.8 408.0 L516.8 407.5 L517.8 398.5 L518.8 382.5 L519.8 361.8 L520.8 338.9 L521.8 315.7 L522.8 293.7 L523.8 273.5 L524.8 255.5 L525.8 239.7 L526.8 226.0 L527.8 214.1 L528.8 203.8 L529.8 194.9 L530.8 187.2 L531.8 180.5 L532.8 174.6 L533.8 169.5 L534.8 165.0 L535.8 161.0 L536.8 157.5 L537.8 154.3 L538.8 151.5 L539.8 149.0 L540.8 146.8 L541.8 144.7 L542.8 142.9 L543.8 141.2 L544.8 139.7 L545.8 138.3 L546.8 137.1 L547.8 135.9 L548.8 134.8 L549.8 133.8 L550.8 132.9 L551.8 132.1 L552.8 131.3 L553.8 130.6 L554.8 129.9 L555.8 129.2 L556.8 128.7 L557.8 128.1 L558.8 127.6 L559.8 127.1 L560.8 126.6 L561.8 126.2 L562.8 125.8 L563.8 125.4 L564.8 125.1 L565.8 124.7 L566.8 124.4 L567.8 124.1 L568.8 123.8 L569.8 123.5 L570.8 123.3 L571.8 123.0 L572.8 122.8 L573.8 122.5 L574.8 122.3 L575.8 122.1 L576.8 121.9 L577.8 121.7 L578.8 121.6 L579.8 121.4 L580.8 121.2 L581.8 121.1 L582.8 120.9 L583.8 120.8 L584.8 120.6 L585.8 120.5 L586.8 120.4 L587.8 120.2 L588.8 120.1 L589.8 120.0 L590.8 119.9 L591.8 119.8 L592.8 119.7 L593.8 119.6 L594.8 119.5 L595.8 119.4 L596.8 119.3 L597.8 119.2 L598.8 119.1 L599.8 119.0 L600.8 119.0 L601.8 118.9 L602.8 118.8 L603.8 118.7 L604.8 118.7 L605.8 118.6 L606.8 118.5 L607.8 118.5 L608.8 118.4 L609.8 118.4 L610.8 118.3 L611.8 118.2 L612.8 118.2 L613.8 118.1 L614.8 118.1 L615.8 118.0 L616.8 118.0 L617.8 117.9 L618.8 117.9 L619.8 117.9 L620.8 117.8 L621.8 117.8 L622.8 117.7 L623.8 117.7 L624.8 117.6 L625.8 117.6 L626.8 117.6 L627.8 117.5 L628.8 117.5 L629.8 117.5 L630.8 117.4 L631.8 117.4 L632.8 117.4 L633.8 117.3 L634.8 117.3 L635.8 117.3 L636.8 117.2 L637.8 117.2 L638.8 117.2 L639.8 117.2 L640.8 117.1 L641.8 117.1 L642.8 117.1 L643.8 117.0 L644.8 117.0 L645.8 117.0 L646.8 117.0 L647.8 117.0 L648.8 116.9 L649.8 116.9 L650.8 116.9 L651.8 116.9 L652.8 116.8 L653.8 116.8 L654.8 116.8 L655.8 116.8 L656.8 116.8 L657.8 116.7 L658.8 116.7 L659.8 116.7 L660.8 116.7 L661.8 116.7 L662.8 116.7 L663.8 116.6 L664.8 116.6 L665.8 116.6 L666.8 116.6 L667.8 116.6 L668.8 116.6 L669.8 116.5 L670.8 116.5 L671.8 116.5 L672.8 116.5 L673.8 116.5 L674.8 116.5 L675.8 116.5 L676.8 116.4 L677.8 116.4 L678.8 116.4 L679.8 116.4 L680.8 116.4 L681.8 116.4 L682.8 116.4 L683.8 116.4 L684.8 116.4 L685.8 116.3 L686.8 116.3 L687.8 116.3 L688.8 116.3 L689.8 116.3 L690.8 116.3 L691.8 116.3 L692.8 116.3 L693.8 116.3 L694.8 116.2 L695.8 116.2 L696.8 116.2 L697.8 116.2 L698.8 116.2 L699.8 116.2 L700.8 116.2 L701.8 116.2 L702.8 116.2 L703.8 116.2 L704.8 116.2 L705.8 116.1 L706.8 116.1 L707.8 116.1 L708.8 116.1 L709.8 116.1 L710.8 116.1 L711.8 116.1 L712.8 116.1 L713.8 116.1 L714.8 116.1 L715.8 116.1 L716.8 116.1 L717.8 116.1 L718.8 116.0 L719.8 116.0 L720.8 116.0 L721.8 116.0 L722.8 116.0 L723.8 116.0 L724.8 116.0 L725.8 116.0 L726.8 116.0 L727.8 116.0 L728.8 116.0 L729.8 116.0 L730.8 116.0 L731.8 116.0 L732.8 116.0 L733.8 116.0 L734.8 115.9 L735.8 115.9 L736.8 115.9 L737.8 115.9 L738.8 115.9 L739.8 115.9 L740.8 115.9 L741.8 115.9 L742.8 115.9 L743.8 115.9 L744.8 115.9 L745.8 115.9 L746.8 115.9 L747.8 115.9 L748.8 115.9 L749.8 115.9 L750.8 115.9 L751.8 115.9 L752.8 115.9 L753.8 115.9 L754.8 115.9 L755.8 115.8 L756.8 115.8 L757.8 115.8 L758.8 115.8 L759.8 115.8 L760.8 115.8 L761.8 115.8 L762.8 115.8 L763.8 115.8 L764.8 115.8 L765.8 115.8 L766.8 115.8 L767.8 115.8 L768.8 115.8 L769.8 115.8 L770.8 115.8 L771.8 115.8 L772.8 115.8 L773.8 115.8 L774.8 115.8 L775.8 115.8 L776.8 115.8 L777.8 115.8 L778.8 115.8 L779.8 115.8 L780.8 115.8 L781.8 115.7 L782.8 115.7 L783.8 115.7 L784.8 115.7 L785.8 115.7 L786.8 115.7 L787.8 115.7 L788.8 115.7 L789.8 115.7 L790.8 115.7 L791.8 115.7 L792.8 115.7 L793.8 115.7 L794.8 115.7 L795.8 115.7 L796.8 115.7 L797.8 115.7 L798.8 115.7 L799.8 115.7 L800.8 115.7 L801.8 115.7 L802.8 115.7 L803.8 115.7 L804.8 115.7 L805.8 115.7 L806.8 115.7 L807.5 115.7" stroke="#00ff00" stroke-width="3.1" fill="none" stroke-linejoin="round"/>
<clipPath id="clipb"><rect x="153.6" y="538.3" width="660" height="420"/></clipPath>
<path d="M152.6 608.1h0M153.9 557.3h0M155.2 579.6h0M156.5 570.5h0M157.8 560.9h0M159.0 565.6h0M160.3 566.5h0M161.6 573.0h0M162.9 580.5h0M164.2 590.2h0M165.5 577.6h0M166.7 591.3h0M168.0 581.0h0M169.3 575.6h0M170.6 570.5h0M171.9 558.9h0M173.1 549.4h0M174.4 572.6h0M175.7 571.2h0M177.0 578.7h0M178.3 578.9h0M179.5 554.4h0M180.8 562.8h0M182.1 556.5h0M183.4 589.1h0M184.7 571.9h0M186.0 575.5h0M187.2 559.8h0M188.5 554.2h0M189.8 564.7h0M191.1 572.1h0M192.4 580.7h0M193.6 550.3h0M194.9 578.7h0M196.2 560.5h0M197.5 565.6h0M198.8 568.5h0M200.0 567.0h0M201.3 580.7h0M202.6 587.1h0M203.9 578.8h0M205.2 565.4h0M206.5 580.1h0M207.7 579.4h0M209.0 586.8h0M210.3 577.8h0M211.6 549.0h0M212.9 562.1h0M214.1 567.5h0M215.4 587.8h0M216.7 571.6h0M218.0 587.6h0M219.3 578.2h0M220.5 555.6h0M221.8 574.4h0M223.1 582.2h0M224.4 580.0h0M225.7 551.1h0M227.0 580.3h0M228.2 564.8h0M229.5 541.6h0M230.8 565.1h0M232.1 543.7h0M233.4 554.4h0M234.6 595.8h0M235.9 611.5h0M237.2 590.1h0M238.5 580.5h0M239.8 602.9h0M241.0 579.1h0M242.3 558.9h0M243.6 536.4h0M244.9 587.8h0M246.2 539.5h0M247.5 530.2h0M248.7 564.0h0M250.0 575.0h0M251.3 560.8h0M252.6 590.0h0M253.9 572.7h0M255.1 577.3h0M256.4 580.9h0M257.7 565.1h0M259.0 577.3h0M260.3 609.9h0M261.5 559.8h0M262.8 576.7h0M264.1 582.3h0M265.4 565.9h0M266.7 573.5h0M268.0 548.0h0M269.2 567.6h0M270.5 575.0h0M271.8 591.5h0M273.1 589.0h0M274.4 565.5h0M275.6 557.4h0M276.9 602.7h0M278.2 588.2h0M279.5 545.1h0M280.8 569.3h0M282.0 560.7h0M283.3 565.3h0M284.6 548.2h0M285.9 568.2h0M287.2 566.8h0M288.5 571.1h0M289.7 590.9h0M291.0 578.3h0M292.3 556.0h0M293.6 548.1h0M294.9 566.7h0M296.1 592.7h0M297.4 589.5h0M298.7 565.9h0M300.0 593.0h0M301.3 581.8h0M302.5 565.8h0M303.8 581.8h0M305.1 574.0h0M306.4 558.0h0M307.7 568.6h0M309.0 577.8h0M310.2 595.8h0M311.5 559.4h0M312.8 579.2h0M314.1 575.8h0M315.4 574.8h0M316.6 556.7h0M317.9 595.2h0M319.2 595.8h0M320.5 600.5h0M321.8 583.0h0M323.0 598.8h0M324.3 584.2h0M325.6 591.4h0M326.9 570.8h0M328.2 579.5h0M329.5 571.0h0M330.7 559.7h0M332.0 569.4h0M333.3 558.8h0M334.6 558.9h0M335.9 570.3h0M337.1 567.0h0M338.4 608.6h0M339.7 604.1h0M341.0 593.4h0M342.3 588.9h0M343.5 563.3h0M344.8 581.1h0M346.1 554.4h0M347.4 567.1h0M348.7 569.5h0M350.0 571.3h0M351.2 590.5h0M352.5 564.9h0M353.8 614.8h0M355.1 569.4h0M356.4 590.7h0M357.6 552.9h0M358.9 591.8h0M360.2 558.5h0M361.5 580.9h0M362.8 577.8h0M364.0 590.8h0M365.3 587.6h0M366.6 584.3h0M367.9 576.0h0M369.2 608.9h0M370.5 571.3h0M371.7 578.8h0M373.0 571.4h0M374.3 581.0h0M375.6 564.0h0M376.9 572.7h0M378.1 587.2h0M379.4 570.4h0M380.7 586.8h0M382.0 570.6h0M383.3 602.1h0M384.5 578.0h0M385.8 607.7h0M387.1 588.2h0M388.4 578.6h0M389.7 595.7h0M391.0 599.2h0M392.2 605.1h0M393.5 603.2h0M394.8 595.7h0M396.1 563.8h0M397.4 596.8h0M398.6 581.2h0M399.9 589.2h0M401.2 603.0h0M402.5 572.3h0M403.8 604.6h0M405.0 621.6h0M406.3 593.3h0M407.6 580.1h0M408.9 606.9h0M410.2 588.8h0M411.5 602.8h0M412.7 606.5h0M414.0 563.9h0M415.3 593.1h0M416.6 564.9h0M417.9 578.4h0M419.1 599.6h0M420.4 572.2h0M421.7 580.4h0M423.0 585.4h0M424.3 598.4h0M425.5 600.0h0M426.8 602.6h0M428.1 589.0h0M429.4 586.5h0M430.7 606.1h0M432.0 587.7h0M433.2 590.3h0M434.5 615.8h0M435.8 594.5h0M437.1 595.2h0M438.4 629.5h0M439.6 614.0h0M440.9 583.1h0M442.2 609.7h0M443.5 655.9h0M444.8 674.2h0M446.0 630.5h0M447.3 651.8h0M448.6 659.0h0M449.9 659.9h0M451.2 635.2h0M452.5 689.0h0M453.7 689.1h0M455.0 693.9h0M456.3 687.0h0M457.6 719.0h0M458.9 745.7h0M460.1 764.1h0M461.4 793.9h0M462.7 807.8h0M464.0 853.2h0M465.3 870.3h0M466.5 863.3h0M467.8 888.3h0M469.1 914.1h0M470.4 900.2h0M471.7 922.4h0M473.0 875.1h0M474.2 863.8h0M475.5 842.7h0M476.8 788.3h0M478.1 799.6h0M479.4 753.6h0M480.6 725.4h0M481.9 708.2h0M483.2 677.7h0M484.5 670.3h0M485.8 704.2h0M487.0 670.0h0M488.3 660.2h0M489.6 661.4h0M490.9 662.3h0M492.2 636.8h0M493.5 642.5h0M494.7 647.4h0M496.0 657.0h0M497.3 643.9h0M498.6 665.0h0M499.9 635.7h0M501.1 634.3h0M502.4 619.1h0M503.7 641.7h0M505.0 654.8h0M506.3 644.2h0M507.5 649.5h0M508.8 642.2h0M510.1 654.5h0M511.4 664.5h0M512.7 679.3h0M514.0 708.7h0M515.2 713.3h0M516.5 735.4h0M517.8 757.5h0M519.1 752.1h0M520.4 801.2h0M521.6 801.7h0M522.9 797.9h0M524.2 820.7h0M525.5 832.6h0M526.8 806.0h0M528.0 856.3h0M529.3 808.3h0M530.6 811.3h0M531.9 769.9h0M533.2 783.4h0M534.5 781.7h0M535.7 763.7h0M537.0 778.6h0M538.3 773.9h0M539.6 778.1h0M540.9 750.1h0M542.1 771.0h0M543.4 750.0h0M544.7 730.6h0M546.0 697.7h0M547.3 716.1h0M548.5 700.5h0M549.8 730.8h0M551.1 663.8h0M552.4 695.1h0M553.7 682.0h0M555.0 660.6h0M556.2 650.5h0M557.5 647.8h0M558.8 611.3h0M560.1 651.0h0M561.4 619.5h0M562.6 608.9h0M563.9 616.7h0M565.2 570.9h0M566.5 590.1h0M567.8 589.8h0M569.0 581.4h0M570.3 612.7h0M571.6 626.5h0M572.9 600.2h0M574.2 593.4h0M575.5 602.0h0M576.7 587.8h0M578.0 596.5h0M579.3 599.6h0M580.6 588.8h0M581.9 585.0h0M583.1 591.6h0M584.4 590.6h0M585.7 599.4h0M587.0 564.8h0M588.3 570.2h0M589.5 579.4h0M590.8 593.9h0M592.1 565.7h0M593.4 604.0h0M594.7 607.1h0M596.0 572.9h0M597.2 601.2h0M598.5 551.1h0M599.8 581.5h0M601.1 557.7h0M602.4 599.0h0M603.6 595.2h0M604.9 589.6h0M606.2 572.4h0M607.5 563.6h0M608.8 587.3h0M610.0 572.6h0M611.3 590.8h0M612.6 555.3h0M613.9 586.4h0M615.2 587.6h0M616.5 544.1h0M617.7 559.4h0M619.0 568.0h0M620.3 569.5h0M621.6 551.8h0M622.9 578.6h0M624.1 560.7h0M625.4 576.9h0M626.7 549.5h0M628.0 559.4h0M629.3 588.4h0M630.5 550.9h0M631.8 576.8h0M633.1 599.7h0M634.4 589.6h0M635.7 556.5h0M637.0 611.3h0M638.2 568.1h0M639.5 591.1h0M640.8 591.5h0M642.1 571.5h0M643.4 586.2h0M644.6 533.5h0M645.9 577.6h0M647.2 578.6h0M648.5 570.6h0M649.8 577.8h0M651.0 592.4h0M652.3 590.4h0M653.6 566.0h0M654.9 587.9h0M656.2 593.8h0M657.5 577.3h0M658.7 581.5h0M660.0 537.4h0M661.3 550.9h0M662.6 581.1h0M663.9 551.9h0M665.1 588.3h0M666.4 593.1h0M667.7 559.7h0M669.0 556.9h0M670.3 571.8h0M671.5 578.3h0M672.8 587.5h0M674.1 571.2h0M675.4 575.2h0M676.7 559.2h0M678.0 579.0h0M679.2 562.5h0M680.5 590.0h0M681.8 585.3h0M683.1 549.0h0M684.4 579.7h0M685.6 557.3h0M686.9 589.2h0M688.2 558.2h0M689.5 593.7h0M690.8 590.7h0M692.0 604.4h0M693.3 579.2h0M694.6 574.8h0M695.9 592.9h0M697.2 555.0h0M698.5 573.3h0M699.7 569.0h0M701.0 573.0h0M702.3 549.3h0M703.6 547.8h0M704.9 547.3h0M706.1 596.5h0M707.4 568.5h0M708.7 583.4h0M710.0 571.7h0M711.3 569.9h0M712.5 593.8h0M713.8 537.7h0M715.1 570.1h0M716.4 561.3h0M717.7 559.2h0M719.0 548.4h0M720.2 549.7h0M721.5 554.8h0M722.8 590.3h0M724.1 562.7h0M725.4 566.1h0M726.6 570.6h0M727.9 582.9h0M729.2 589.3h0M730.5 576.3h0M731.8 573.3h0M733.0 581.4h0M734.3 560.9h0M735.6 576.6h0M736.9 599.4h0M738.2 563.1h0M739.5 559.9h0M740.7 549.3h0M742.0 574.0h0M743.3 582.8h0M744.6 566.6h0M745.9 568.1h0M747.1 591.4h0M748.4 573.6h0M749.7 583.9h0M751.0 567.5h0M752.3 593.2h0M753.5 587.2h0M754.8 570.9h0M756.1 563.9h0M757.4 612.4h0M758.7 556.5h0M760.0 558.2h0M761.2 534.6h0M762.5 583.7h0M763.8 574.0h0M765.1 571.8h0M766.4 549.5h0M767.6 573.3h0M768.9 560.9h0M770.2 555.0h0M771.5 569.4h0M772.8 577.9h0M774.0 570.8h0M775.3 565.3h0M776.6 584.4h0M777.9 576.9h0M779.2 567.4h0M780.5 581.9h0M781.7 577.7h0M783.0 587.2h0M784.3 585.9h0M785.6 584.5h0M786.9 563.9h0M788.1 593.4h0M789.4 588.5h0M790.7 564.8h0M792.0 592.3h0M793.3 574.5h0M794.5 557.7h0M795.8 572.5h0M797.1 553.3h0M798.4 590.4h0M799.7 553.6h0M801.0 595.6h0M802.2 559.8h0M803.5 571.0h0M804.8 592.7h0M806.1 578.5h0M807.4 547.8h0M469.2 913.5h0M470.4 925.6h0M526.3 849.4h0M166.2 544.5h0M195.0 544.5h0M251.8 548.8h0M341.8 548.0h0M213.0 606.4h0M255.4 607.0h0M167.3 602.0h0" stroke="#000" stroke-width="4.9" stroke-linecap="round" fill="none" clip-path="url(#clipb)"/>
<path d="M154.0 577.5 L155.0 577.5 L156.0 577.5 L157.0 577.5 L158.0 577.5 L159.0 577.5 L160.0 577.5 L161.0 577.5 L162.0 577.5 L163.0 577.5 L164.0 577.5 L165.0 577.5 L166.0 577.5 L167.0 577.5 L168.0 577.6 L169.0 577.6 L170.0 577.6 L171.0 577.6 L172.0 577.6 L173.0 577.6 L174.0 577.6 L175.0 577.6 L176.0 577.6 L177.0 577.6 L178.0 577.6 L179.0 577.6 L180.0 577.6 L181.0 577.6 L182.0 577.6 L183.0 577.6 L184.0 577.6 L185.0 577.6 L186.0 577.6 L187.0 577.6 L188.0 577.6 L189.0 577.6 L190.0 577.6 L191.0 577.7 L192.0 577.7 L193.0 577.7 L194.0 577.7 L195.0 577.7 L196.0 577.7 L197.0 577.7 L198.0 577.7 L199.0 577.7 L200.0 577.7 L201.0 577.7 L202.0 577.7 L203.0 577.7 L204.0 577.7 L205.0 577.7 L206.0 577.7 L207.0 577.7 L208.0 577.7 L209.0 577.8 L210.0 577.8 L211.0 577.8 L212.0 577.8 L213.0 577.8 L214.0 577.8 L215.0 577.8 L216.0 577.8 L217.0 577.8 L218.0 577.8 L219.0 577.8 L220.0 577.8 L221.0 577.8 L222.0 577.8 L223.0 577.8 L224.0 577.9 L225.0 577.9 L226.0 577.9 L227.0 577.9 L228.0 577.9 L229.0 577.9 L230.0 577.9 L231.0 577.9 L232.0 577.9 L233.0 577.9 L234.0 577.9 L235.0 577.9 L236.0 577.9 L237.0 578.0 L238.0 578.0 L239.0 578.0 L240.0 578.0 L241.0 578.0 L242.0 578.0 L243.0 578.0 L244.0 578.0 L245.0 578.0 L246.0 578.0 L247.0 578.0 L248.0 578.1 L249.0 578.1 L250.0 578.1 L251.0 578.1 L252.0 578.1 L253.0 578.1 L254.0 578.1 L255.0 578.1 L256.0 578.1 L257.0 578.1 L258.0 578.2 L259.0 578.2 L260.0 578.2 L261.0 578.2 L262.0 578.2 L263.0 578.2 L264.0 578.2 L265.0 578.2 L266.0 578.2 L267.0 578.3 L268.0 578.3 L269.0 578.3 L270.0 578.3 L271.0 578.3 L272.0 578.3 L273.0 578.3 L274.0 578.3 L275.0 578.4 L276.0 578.4 L277.0 578.4 L278.0 578.4 L279.0 578.4 L280.0 578.4 L281.0 578.4 L282.0 578.5 L283.0 578.5 L284.0 578.5 L285.0 578.5 L286.0 578.5 L287.0 578.5 L288.0 578.6 L289.0 578.6 L290.0 578.6 L291.0 578.6 L292.0 578.6 L293.0 578.6 L294.0 578.7 L295.0 578.7 L296.0 578.7 L297.0 578.7 L298.0 578.7 L299.0 578.8 L300.0 578.8 L301.0 578.8 L302.0 578.8 L303.0 578.8 L304.0 578.9 L305.0 578.9 L306.0 578.9 L307.0 578.9 L308.0 578.9 L309.0 579.0 L310.0 579.0 L311.0 579.0 L312.0 579.0 L313.0 579.1 L314.0 579.1 L315.0 579.1 L316.0 579.1 L317.0 579.2 L318.0 579.2 L319.0 579.2 L320.0 579.3 L321.0 579.3 L322.0 579.3 L323.0 579.3 L324.0 579.4 L325.0 579.4 L326.0 579.4 L327.0 579.5 L328.0 579.5 L329.0 579.5 L330.0 579.6 L331.0 579.6 L332.0 579.6 L333.0 579.7 L334.0 579.7 L335.0 579.7 L336.0 579.8 L337.0 579.8 L338.0 579.9 L339.0 579.9 L340.0 580.0 L341.0 580.0 L342.0 580.0 L343.0 580.1 L344.0 580.1 L345.0 580.2 L346.0 580.2 L347.0 580.3 L348.0 580.3 L349.0 580.4 L350.0 580.4 L351.0 580.5 L352.0 580.5 L353.0 580.6 L354.0 580.6 L355.0 580.7 L356.0 580.8 L357.0 580.8 L358.0 580.9 L359.0 581.0 L360.0 581.0 L361.0 581.1 L362.0 581.2 L363.0 581.2 L364.0 581.3 L365.0 581.4 L366.0 581.5 L367.0 581.5 L368.0 581.6 L369.0 581.7 L370.0 581.8 L371.0 581.9 L372.0 582.0 L373.0 582.1 L374.0 582.2 L375.0 582.3 L376.0 582.4 L377.0 582.5 L378.0 582.6 L379.0 582.7 L380.0 582.8 L381.0 582.9 L382.0 583.1 L383.0 583.2 L384.0 583.3 L385.0 583.5 L386.0 583.6 L387.0 583.7 L388.0 583.9 L389.0 584.0 L390.0 584.2 L391.0 584.4 L392.0 584.5 L393.0 584.7 L394.0 584.9 L395.0 585.1 L396.0 585.3 L397.0 585.5 L398.0 585.7 L399.0 586.0 L400.0 586.2 L401.0 586.4 L402.0 586.7 L403.0 586.9 L404.0 587.2 L405.0 587.5 L406.0 587.8 L407.0 588.1 L408.0 588.5 L409.0 588.8 L410.0 589.2 L411.0 589.5 L412.0 589.9 L413.0 590.3 L414.0 590.8 L415.0 591.2 L416.0 591.7 L417.0 592.2 L418.0 592.7 L419.0 593.3 L420.0 593.9 L421.0 594.5 L422.0 595.2 L423.0 595.9 L424.0 596.7 L425.0 597.4 L426.0 598.3 L427.0 599.2 L428.0 600.1 L429.0 601.2 L430.0 602.3 L431.0 603.4 L432.0 604.7 L433.0 606.0 L434.0 607.5 L435.0 609.1 L436.0 610.7 L437.0 612.6 L438.0 614.5 L439.0 616.7 L440.0 619.0 L441.0 621.6 L442.0 624.3 L443.0 627.4 L444.0 630.7 L445.0 634.4 L446.0 638.4 L447.0 642.8 L448.0 647.8 L449.0 653.2 L450.0 659.2 L451.0 665.9 L452.0 673.3 L453.0 681.6 L454.0 690.8 L455.0 700.9 L456.0 712.2 L457.0 724.7 L458.0 738.3 L459.0 753.2 L460.0 769.3 L461.0 786.4 L462.0 804.4 L463.0 822.9 L464.0 841.5 L465.0 859.6 L466.0 876.5 L467.0 891.3 L468.0 903.0 L469.0 910.6 L470.0 913.0 L471.0 909.7 L472.0 900.6 L473.0 886.4 L474.0 868.3 L475.0 847.8 L476.0 826.5 L477.0 805.3 L478.0 785.3 L479.0 766.7 L480.0 749.9 L481.0 734.9 L482.0 721.6 L483.0 709.9 L484.0 699.6 L485.0 690.7 L486.0 682.8 L487.0 676.0 L488.0 670.0 L489.0 664.9 L490.0 660.4 L491.0 656.6 L492.0 653.3 L493.0 650.5 L494.0 648.3 L495.0 646.4 L496.0 644.9 L497.0 643.8 L498.0 643.1 L499.0 642.8 L500.0 642.8 L501.0 643.2 L502.0 643.9 L503.0 645.0 L504.0 646.6 L505.0 648.5 L506.0 651.0 L507.0 654.0 L508.0 657.6 L509.0 661.8 L510.0 666.7 L511.0 672.5 L512.0 679.3 L513.0 687.1 L514.0 696.1 L515.0 706.4 L516.0 718.2 L517.0 731.4 L518.0 746.0 L519.0 761.7 L520.0 778.2 L521.0 794.6 L522.0 809.9 L523.0 823.0 L524.0 832.4 L525.0 837.2 L526.0 836.8 L527.0 832.2 L528.0 824.6 L529.0 815.8 L530.0 806.8 L531.0 798.6 L532.0 791.7 L533.0 786.4 L534.0 782.6 L535.0 780.3 L536.0 779.0 L537.0 778.4 L538.0 777.9 L539.0 777.0 L540.0 775.2 L541.0 772.1 L542.0 767.5 L543.0 761.3 L544.0 753.7 L545.0 745.0 L546.0 735.4 L547.0 725.5 L548.0 715.5 L549.0 705.6 L550.0 696.2 L551.0 687.2 L552.0 678.9 L553.0 671.2 L554.0 664.1 L555.0 657.7 L556.0 651.8 L557.0 646.4 L558.0 641.6 L559.0 637.2 L560.0 633.2 L561.0 629.5 L562.0 626.2 L563.0 623.2 L564.0 620.4 L565.0 617.9 L566.0 615.6 L567.0 613.4 L568.0 611.5 L569.0 609.7 L570.0 608.0 L571.0 606.5 L572.0 605.1 L573.0 603.7 L574.0 602.5 L575.0 601.4 L576.0 600.3 L577.0 599.3 L578.0 598.4 L579.0 597.5 L580.0 596.7 L581.0 595.9 L582.0 595.2 L583.0 594.5 L584.0 593.9 L585.0 593.3 L586.0 592.7 L587.0 592.1 L588.0 591.6 L589.0 591.1 L590.0 590.7 L591.0 590.2 L592.0 589.8 L593.0 589.4 L594.0 589.0 L595.0 588.7 L596.0 588.3 L597.0 588.0 L598.0 587.7 L599.0 587.4 L600.0 587.1 L601.0 586.8 L602.0 586.6 L603.0 586.3 L604.0 586.1 L605.0 585.8 L606.0 585.6 L607.0 585.4 L608.0 585.2 L609.0 585.0 L610.0 584.8 L611.0 584.6 L612.0 584.4 L613.0 584.3 L614.0 584.1 L615.0 583.9 L616.0 583.8 L617.0 583.6 L618.0 583.5 L619.0 583.4 L620.0 583.2 L621.0 583.1 L622.0 583.0 L623.0 582.8 L624.0 582.7 L625.0 582.6 L626.0 582.5 L627.0 582.4 L628.0 582.3 L629.0 582.2 L630.0 582.1 L631.0 582.0 L632.0 581.9 L633.0 581.8 L634.0 581.7 L635.0 581.6 L636.0 581.6 L637.0 581.5 L638.0 581.4 L639.0 581.3 L640.0 581.2 L641.0 581.2 L642.0 581.1 L643.0 581.0 L644.0 581.0 L645.0 580.9 L646.0 580.8 L647.0 580.8 L648.0 580.7 L649.0 580.7 L650.0 580.6 L651.0 580.5 L652.0 580.5 L653.0 580.4 L654.0 580.4 L655.0 580.3 L656.0 580.3 L657.0 580.2 L658.0 580.2 L659.0 580.1 L660.0 580.1 L661.0 580.0 L662.0 580.0 L663.0 580.0 L664.0 579.9 L665.0 579.9 L666.0 579.8 L667.0 579.8 L668.0 579.7 L669.0 579.7 L670.0 579.7 L671.0 579.6 L672.0 579.6 L673.0 579.6 L674.0 579.5 L675.0 579.5 L676.0 579.5 L677.0 579.4 L678.0 579.4 L679.0 579.4 L680.0 579.3 L681.0 579.3 L682.0 579.3 L683.0 579.3 L684.0 579.2 L685.0 579.2 L686.0 579.2 L687.0 579.1 L688.0 579.1 L689.0 579.1 L690.0 579.1 L691.0 579.0 L692.0 579.0 L693.0 579.0 L694.0 579.0 L695.0 578.9 L696.0 578.9 L697.0 578.9 L698.0 578.9 L699.0 578.9 L700.0 578.8 L701.0 578.8 L702.0 578.8 L703.0 578.8 L704.0 578.8 L705.0 578.7 L706.0 578.7 L707.0 578.7 L708.0 578.7 L709.0 578.7 L710.0 578.6 L711.0 578.6 L712.0 578.6 L713.0 578.6 L714.0 578.6 L715.0 578.6 L716.0 578.5 L717.0 578.5 L718.0 578.5 L719.0 578.5 L720.0 578.5 L721.0 578.5 L722.0 578.4 L723.0 578.4 L724.0 578.4 L725.0 578.4 L726.0 578.4 L727.0 578.4 L728.0 578.4 L729.0 578.3 L730.0 578.3 L731.0 578.3 L732.0 578.3 L733.0 578.3 L734.0 578.3 L735.0 578.3 L736.0 578.3 L737.0 578.2 L738.0 578.2 L739.0 578.2 L740.0 578.2 L741.0 578.2 L742.0 578.2 L743.0 578.2 L744.0 578.2 L745.0 578.2 L746.0 578.1 L747.0 578.1 L748.0 578.1 L749.0 578.1 L750.0 578.1 L751.0 578.1 L752.0 578.1 L753.0 578.1 L754.0 578.1 L755.0 578.0 L756.0 578.0 L757.0 578.0 L758.0 578.0 L759.0 578.0 L760.0 578.0 L761.0 578.0 L762.0 578.0 L763.0 578.0 L764.0 578.0 L765.0 578.0 L766.0 578.0 L767.0 577.9 L768.0 577.9 L769.0 577.9 L770.0 577.9 L771.0 577.9 L772.0 577.9 L773.0 577.9 L774.0 577.9 L775.0 577.9 L776.0 577.9 L777.0 577.9 L778.0 577.9 L779.0 577.9 L780.0 577.8 L781.0 577.8 L782.0 577.8 L783.0 577.8 L784.0 577.8 L785.0 577.8 L786.0 577.8 L787.0 577.8 L788.0 577.8 L789.0 577.8 L790.0 577.8 L791.0 577.8 L792.0 577.8 L793.0 577.8 L794.0 577.8 L795.0 577.7 L796.0 577.7 L797.0 577.7 L798.0 577.7 L799.0 577.7 L800.0 577.7 L801.0 577.7 L802.0 577.7 L803.0 577.7 L804.0 577.7 L805.0 577.7 L806.0 577.7 L807.0 577.7 L807.5 577.7" stroke="#ff0000" stroke-width="3.1" fill="none" stroke-linejoin="round"/>
<path d="M154.0 577.2 L155.0 577.2 L156.0 577.2 L157.0 577.2 L158.0 577.2 L159.0 577.2 L160.0 577.2 L161.0 577.2 L162.0 577.2 L163.0 577.2 L164.0 577.2 L165.0 577.2 L166.0 577.2 L167.0 577.2 L168.0 577.2 L169.0 577.2 L170.0 577.2 L171.0 577.2 L172.0 577.2 L173.0 577.2 L174.0 577.2 L175.0 577.2 L176.0 577.2 L177.0 577.2 L178.0 577.2 L179.0 577.2 L180.0 577.2 L181.0 577.2 L182.0 577.2 L183.0 577.2 L184.0 577.2 L185.0 577.2 L186.0 577.2 L187.0 577.2 L188.0 577.2 L189.0 577.2 L190.0 577.2 L191.0 577.2 L192.0 577.2 L193.0 577.2 L194.0 577.2 L195.0 577.2 L196.0 577.2 L197.0 577.3 L198.0 577.3 L199.0 577.3 L200.0 577.3 L201.0 577.3 L202.0 577.3 L203.0 577.3 L204.0 577.3 L205.0 577.3 L206.0 577.3 L207.0 577.3 L208.0 577.3 L209.0 577.3 L210.0 577.3 L211.0 577.3 L212.0 577.3 L213.0 577.3 L214.0 577.3 L215.0 577.3 L216.0 577.3 L217.0 577.3 L218.0 577.3 L219.0 577.3 L220.0 577.3 L221.0 577.3 L222.0 577.3 L223.0 577.3 L224.0 577.3 L225.0 577.3 L226.0 577.3 L227.0 577.3 L228.0 577.3 L229.0 577.3 L230.0 577.3 L231.0 577.3 L232.0 577.4 L233.0 577.4 L234.0 577.4 L235.0 577.4 L236.0 577.4 L237.0 577.4 L238.0 577.4 L239.0 577.4 L240.0 577.4 L241.0 577.4 L242.0 577.4 L243.0 577.4 L244.0 577.4 L245.0 577.4 L246.0 577.4 L247.0 577.4 L248.0 577.4 L249.0 577.4 L250.0 577.4 L251.0 577.4 L252.0 577.4 L253.0 577.4 L254.0 577.4 L255.0 577.4 L256.0 577.4 L257.0 577.5 L258.0 577.5 L259.0 577.5 L260.0 577.5 L261.0 577.5 L262.0 577.5 L263.0 577.5 L264.0 577.5 L265.0 577.5 L266.0 577.5 L267.0 577.5 L268.0 577.5 L269.0 577.5 L270.0 577.5 L271.0 577.5 L272.0 577.5 L273.0 577.5 L274.0 577.5 L275.0 577.6 L276.0 577.6 L277.0 577.6 L278.0 577.6 L279.0 577.6 L280.0 577.6 L281.0 577.6 L282.0 577.6 L283.0 577.6 L284.0 577.6 L285.0 577.6 L286.0 577.6 L287.0 577.6 L288.0 577.6 L289.0 577.6 L290.0 577.7 L291.0 577.7 L292.0 577.7 L293.0 577.7 L294.0 577.7 L295.0 577.7 L296.0 577.7 L297.0 577.7 L298.0 577.7 L299.0 577.7 L300.0 577.7 L301.0 577.7 L302.0 577.8 L303.0 577.8 L304.0 577.8 L305.0 577.8 L306.0 577.8 L307.0 577.8 L308.0 577.8 L309.0 577.8 L310.0 577.8 L311.0 577.8 L312.0 577.9 L313.0 577.9 L314.0 577.9 L315.0 577.9 L316.0 577.9 L317.0 577.9 L318.0 577.9 L319.0 577.9 L320.0 577.9 L321.0 578.0 L322.0 578.0 L323.0 578.0 L324.0 578.0 L325.0 578.0 L326.0 578.0 L327.0 578.0 L328.0 578.1 L329.0 578.1 L330.0 578.1 L331.0 578.1 L332.0 578.1 L333.0 578.1 L334.0 578.1 L335.0 578.2 L336.0 578.2 L337.0 578.2 L338.0 578.2 L339.0 578.2 L340.0 578.3 L341.0 578.3 L342.0 578.3 L343.0 578.3 L344.0 578.3 L345.0 578.3 L346.0 578.4 L347.0 578.4 L348.0 578.4 L349.0 578.4 L350.0 578.5 L351.0 578.5 L352.0 578.5 L353.0 578.5 L354.0 578.6 L355.0 578.6 L356.0 578.6 L357.0 578.6 L358.0 578.7 L359.0 578.7 L360.0 578.7 L361.0 578.7 L362.0 578.8 L363.0 578.8 L364.0 578.8 L365.0 578.9 L366.0 578.9 L367.0 578.9 L368.0 579.0 L369.0 579.0 L370.0 579.1 L371.0 579.1 L372.0 579.1 L373.0 579.2 L374.0 579.2 L375.0 579.3 L376.0 579.3 L377.0 579.3 L378.0 579.4 L379.0 579.4 L380.0 579.5 L381.0 579.5 L382.0 579.6 L383.0 579.6 L384.0 579.7 L385.0 579.8 L386.0 579.8 L387.0 579.9 L388.0 579.9 L389.0 580.0 L390.0 580.1 L391.0 580.2 L392.0 580.2 L393.0 580.3 L394.0 580.4 L395.0 580.5 L396.0 580.5 L397.0 580.6 L398.0 580.7 L399.0 580.8 L400.0 580.9 L401.0 581.0 L402.0 581.1 L403.0 581.2 L404.0 581.3 L405.0 581.5 L406.0 581.6 L407.0 581.7 L408.0 581.9 L409.0 582.0 L410.0 582.1 L411.0 582.3 L412.0 582.5 L413.0 582.6 L414.0 582.8 L415.0 583.0 L416.0 583.2 L417.0 583.4 L418.0 583.6 L419.0 583.8 L420.0 584.1 L421.0 584.3 L422.0 584.6 L423.0 584.9 L424.0 585.2 L425.0 585.5 L426.0 585.8 L427.0 586.2 L428.0 586.6 L429.0 587.0 L430.0 587.4 L431.0 587.8 L432.0 588.3 L433.0 588.9 L434.0 589.4 L435.0 590.0 L436.0 590.7 L437.0 591.4 L438.0 592.2 L439.0 593.0 L440.0 593.9 L441.0 594.8 L442.0 595.9 L443.0 597.1 L444.0 598.3 L445.0 599.7 L446.0 601.3 L447.0 603.0 L448.0 604.8 L449.0 606.9 L450.0 609.3 L451.0 611.9 L452.0 614.8 L453.0 618.1 L454.0 621.8 L455.0 626.0 L456.0 630.8 L457.0 636.2 L458.0 642.4 L459.0 649.4 L460.0 657.5 L461.0 666.6 L462.0 677.0 L463.0 688.6 L464.0 701.5 L465.0 715.4 L466.0 729.9 L467.0 744.5 L468.0 758.0 L469.0 769.2 L470.0 776.9 L471.0 780.1 L472.0 778.3 L473.0 771.8 L474.0 761.6 L475.0 748.8 L476.0 734.8 L477.0 720.6 L478.0 706.9 L479.0 694.3 L480.0 682.8 L481.0 672.6 L482.0 663.7 L483.0 655.9 L484.0 649.2 L485.0 643.4 L486.0 638.4 L487.0 634.1 L488.0 630.4 L489.0 627.3 L490.0 624.6 L491.0 622.4 L492.0 620.5 L493.0 619.0 L494.0 617.8 L495.0 616.9 L496.0 616.3 L497.0 615.9 L498.0 615.8 L499.0 616.0 L500.0 616.4 L501.0 617.1 L502.0 618.0 L503.0 619.3 L504.0 620.9 L505.0 622.8 L506.0 625.1 L507.0 627.8 L508.0 631.1 L509.0 634.9 L510.0 639.3 L511.0 644.5 L512.0 650.5 L513.0 657.4 L514.0 665.4 L515.0 674.6 L516.0 685.0 L517.0 696.7 L518.0 709.6 L519.0 723.4 L520.0 737.6 L521.0 751.5 L522.0 763.9 L523.0 773.4 L524.0 779.1 L525.0 779.9 L526.0 775.7 L527.0 767.2 L528.0 755.4 L529.0 741.6 L530.0 727.0 L531.0 712.5 L532.0 698.8 L533.0 686.2 L534.0 674.8 L535.0 664.7 L536.0 655.8 L537.0 647.9 L538.0 641.1 L539.0 635.0 L540.0 629.8 L541.0 625.1 L542.0 621.0 L543.0 617.4 L544.0 614.2 L545.0 611.3 L546.0 608.8 L547.0 606.5 L548.0 604.5 L549.0 602.6 L550.0 600.9 L551.0 599.4 L552.0 598.1 L553.0 596.8 L554.0 595.7 L555.0 594.6 L556.0 593.7 L557.0 592.8 L558.0 592.0 L559.0 591.2 L560.0 590.6 L561.0 589.9 L562.0 589.3 L563.0 588.8 L564.0 588.2 L565.0 587.8 L566.0 587.3 L567.0 586.9 L568.0 586.5 L569.0 586.1 L570.0 585.8 L571.0 585.4 L572.0 585.1 L573.0 584.8 L574.0 584.5 L575.0 584.3 L576.0 584.0 L577.0 583.8 L578.0 583.6 L579.0 583.3 L580.0 583.1 L581.0 583.0 L582.0 582.8 L583.0 582.6 L584.0 582.4 L585.0 582.3 L586.0 582.1 L587.0 582.0 L588.0 581.8 L589.0 581.7 L590.0 581.6 L591.0 581.4 L592.0 581.3 L593.0 581.2 L594.0 581.1 L595.0 581.0 L596.0 580.9 L597.0 580.8 L598.0 580.7 L599.0 580.6 L600.0 580.5 L601.0 580.4 L602.0 580.4 L603.0 580.3 L604.0 580.2 L605.0 580.1 L606.0 580.1 L607.0 580.0 L608.0 579.9 L609.0 579.9 L610.0 579.8 L611.0 579.7 L612.0 579.7 L613.0 579.6 L614.0 579.6 L615.0 579.5 L616.0 579.5 L617.0 579.4 L618.0 579.4 L619.0 579.3 L620.0 579.3 L621.0 579.2 L622.0 579.2 L623.0 579.2 L624.0 579.1 L625.0 579.1 L626.0 579.0 L627.0 579.0 L628.0 579.0 L629.0 578.9 L630.0 578.9 L631.0 578.9 L632.0 578.8 L633.0 578.8 L634.0 578.8 L635.0 578.7 L636.0 578.7 L637.0 578.7 L638.0 578.7 L639.0 578.6 L640.0 578.6 L641.0 578.6 L642.0 578.6 L643.0 578.5 L644.0 578.5 L645.0 578.5 L646.0 578.5 L647.0 578.4 L648.0 578.4 L649.0 578.4 L650.0 578.4 L651.0 578.3 L652.0 578.3 L653.0 578.3 L654.0 578.3 L655.0 578.3 L656.0 578.2 L657.0 578.2 L658.0 578.2 L659.0 578.2 L660.0 578.2 L661.0 578.2 L662.0 578.1 L663.0 578.1 L664.0 578.1 L665.0 578.1 L666.0 578.1 L667.0 578.1 L668.0 578.1 L669.0 578.0 L670.0 578.0 L671.0 578.0 L672.0 578.0 L673.0 578.0 L674.0 578.0 L675.0 578.0 L676.0 577.9 L677.0 577.9 L678.0 577.9 L679.0 577.9 L680.0 577.9 L681.0 577.9 L682.0 577.9 L683.0 577.9 L684.0 577.9 L685.0 577.8 L686.0 577.8 L687.0 577.8 L688.0 577.8 L689.0 577.8 L690.0 577.8 L691.0 577.8 L692.0 577.8 L693.0 577.8 L694.0 577.8 L695.0 577.7 L696.0 577.7 L697.0 577.7 L698.0 577.7 L699.0 577.7 L700.0 577.7 L701.0 577.7 L702.0 577.7 L703.0 577.7 L704.0 577.7 L705.0 577.7 L706.0 577.7 L707.0 577.6 L708.0 577.6 L709.0 577.6 L710.0 577.6 L711.0 577.6 L712.0 577.6 L713.0 577.6 L714.0 577.6 L715.0 577.6 L716.0 577.6 L717.0 577.6 L718.0 577.6 L719.0 577.6 L720.0 577.6 L721.0 577.5 L722.0 577.5 L723.0 577.5 L724.0 577.5 L725.0 577.5 L726.0 577.5 L727.0 577.5 L728.0 577.5 L729.0 577.5 L730.0 577.5 L731.0 577.5 L732.0 577.5 L733.0 577.5 L734.0 577.5 L735.0 577.5 L736.0 577.5 L737.0 577.5 L738.0 577.5 L739.0 577.5 L740.0 577.4 L741.0 577.4 L742.0 577.4 L743.0 577.4 L744.0 577.4 L745.0 577.4 L746.0 577.4 L747.0 577.4 L748.0 577.4 L749.0 577.4 L750.0 577.4 L751.0 577.4 L752.0 577.4 L753.0 577.4 L754.0 577.4 L755.0 577.4 L756.0 577.4 L757.0 577.4 L758.0 577.4 L759.0 577.4 L760.0 577.4 L761.0 577.4 L762.0 577.4 L763.0 577.4 L764.0 577.4 L765.0 577.3 L766.0 577.3 L767.0 577.3 L768.0 577.3 L769.0 577.3 L770.0 577.3 L771.0 577.3 L772.0 577.3 L773.0 577.3 L774.0 577.3 L775.0 577.3 L776.0 577.3 L777.0 577.3 L778.0 577.3 L779.0 577.3 L780.0 577.3 L781.0 577.3 L782.0 577.3 L783.0 577.3 L784.0 577.3 L785.0 577.3 L786.0 577.3 L787.0 577.3 L788.0 577.3 L789.0 577.3 L790.0 577.3 L791.0 577.3 L792.0 577.3 L793.0 577.3 L794.0 577.3 L795.0 577.3 L796.0 577.3 L797.0 577.3 L798.0 577.3 L799.0 577.3 L800.0 577.2 L801.0 577.2 L802.0 577.2 L803.0 577.2 L804.0 577.2 L805.0 577.2 L806.0 577.2 L807.0 577.2 L807.5 577.2" stroke="#00ff00" stroke-width="3.1" fill="none" stroke-linejoin="round"/>
<path d="M154.0 577.2 L155.0 577.2 L156.0 577.2 L157.0 577.2 L158.0 577.2 L159.0 577.2 L160.0 577.2 L161.0 577.2 L162.0 577.2 L163.0 577.2 L164.0 577.3 L165.0 577.3 L166.0 577.3 L167.0 577.3 L168.0 577.3 L169.0 577.3 L170.0 577.3 L171.0 577.3 L172.0 577.3 L173.0 577.3 L174.0 577.3 L175.0 577.3 L176.0 577.3 L177.0 577.3 L178.0 577.3 L179.0 577.3 L180.0 577.3 L181.0 577.3 L182.0 577.3 L183.0 577.3 L184.0 577.3 L185.0 577.3 L186.0 577.3 L187.0 577.3 L188.0 577.3 L189.0 577.3 L190.0 577.3 L191.0 577.3 L192.0 577.3 L193.0 577.3 L194.0 577.3 L195.0 577.3 L196.0 577.3 L197.0 577.3 L198.0 577.3 L199.0 577.3 L200.0 577.3 L201.0 577.3 L202.0 577.4 L203.0 577.4 L204.0 577.4 L205.0 577.4 L206.0 577.4 L207.0 577.4 L208.0 577.4 L209.0 577.4 L210.0 577.4 L211.0 577.4 L212.0 577.4 L213.0 577.4 L214.0 577.4 L215.0 577.4 L216.0 577.4 L217.0 577.4 L218.0 577.4 L219.0 577.4 L220.0 577.4 L221.0 577.4 L222.0 577.4 L223.0 577.4 L224.0 577.4 L225.0 577.4 L226.0 577.4 L227.0 577.4 L228.0 577.4 L229.0 577.4 L230.0 577.5 L231.0 577.5 L232.0 577.5 L233.0 577.5 L234.0 577.5 L235.0 577.5 L236.0 577.5 L237.0 577.5 L238.0 577.5 L239.0 577.5 L240.0 577.5 L241.0 577.5 L242.0 577.5 L243.0 577.5 L244.0 577.5 L245.0 577.5 L246.0 577.5 L247.0 577.5 L248.0 577.5 L249.0 577.5 L250.0 577.5 L251.0 577.6 L252.0 577.6 L253.0 577.6 L254.0 577.6 L255.0 577.6 L256.0 577.6 L257.0 577.6 L258.0 577.6 L259.0 577.6 L260.0 577.6 L261.0 577.6 L262.0 577.6 L263.0 577.6 L264.0 577.6 L265.0 577.6 L266.0 577.6 L267.0 577.7 L268.0 577.7 L269.0 577.7 L270.0 577.7 L271.0 577.7 L272.0 577.7 L273.0 577.7 L274.0 577.7 L275.0 577.7 L276.0 577.7 L277.0 577.7 L278.0 577.7 L279.0 577.7 L280.0 577.7 L281.0 577.8 L282.0 577.8 L283.0 577.8 L284.0 577.8 L285.0 577.8 L286.0 577.8 L287.0 577.8 L288.0 577.8 L289.0 577.8 L290.0 577.8 L291.0 577.8 L292.0 577.9 L293.0 577.9 L294.0 577.9 L295.0 577.9 L296.0 577.9 L297.0 577.9 L298.0 577.9 L299.0 577.9 L300.0 577.9 L301.0 578.0 L302.0 578.0 L303.0 578.0 L304.0 578.0 L305.0 578.0 L306.0 578.0 L307.0 578.0 L308.0 578.0 L309.0 578.0 L310.0 578.1 L311.0 578.1 L312.0 578.1 L313.0 578.1 L314.0 578.1 L315.0 578.1 L316.0 578.1 L317.0 578.2 L318.0 578.2 L319.0 578.2 L320.0 578.2 L321.0 578.2 L322.0 578.2 L323.0 578.3 L324.0 578.3 L325.0 578.3 L326.0 578.3 L327.0 578.3 L328.0 578.3 L329.0 578.4 L330.0 578.4 L331.0 578.4 L332.0 578.4 L333.0 578.4 L334.0 578.5 L335.0 578.5 L336.0 578.5 L337.0 578.5 L338.0 578.6 L339.0 578.6 L340.0 578.6 L341.0 578.6 L342.0 578.6 L343.0 578.7 L344.0 578.7 L345.0 578.7 L346.0 578.8 L347.0 578.8 L348.0 578.8 L349.0 578.8 L350.0 578.9 L351.0 578.9 L352.0 578.9 L353.0 579.0 L354.0 579.0 L355.0 579.0 L356.0 579.1 L357.0 579.1 L358.0 579.1 L359.0 579.2 L360.0 579.2 L361.0 579.2 L362.0 579.3 L363.0 579.3 L364.0 579.4 L365.0 579.4 L366.0 579.5 L367.0 579.5 L368.0 579.5 L369.0 579.6 L370.0 579.6 L371.0 579.7 L372.0 579.7 L373.0 579.8 L374.0 579.9 L375.0 579.9 L376.0 580.0 L377.0 580.0 L378.0 580.1 L379.0 580.2 L380.0 580.2 L381.0 580.3 L382.0 580.4 L383.0 580.4 L384.0 580.5 L385.0 580.6 L386.0 580.7 L387.0 580.8 L388.0 580.8 L389.0 580.9 L390.0 581.0 L391.0 581.1 L392.0 581.2 L393.0 581.3 L394.0 581.4 L395.0 581.5 L396.0 581.7 L397.0 581.8 L398.0 581.9 L399.0 582.0 L400.0 582.2 L401.0 582.3 L402.0 582.5 L403.0 582.6 L404.0 582.8 L405.0 582.9 L406.0 583.1 L407.0 583.3 L408.0 583.5 L409.0 583.7 L410.0 583.9 L411.0 584.1 L412.0 584.4 L413.0 584.6 L414.0 584.9 L415.0 585.1 L416.0 585.4 L417.0 585.7 L418.0 586.0 L419.0 586.4 L420.0 586.7 L421.0 587.1 L422.0 587.5 L423.0 587.9 L424.0 588.4 L425.0 588.9 L426.0 589.4 L427.0 589.9 L428.0 590.5 L429.0 591.1 L430.0 591.8 L431.0 592.5 L432.0 593.3 L433.0 594.1 L434.0 595.0 L435.0 595.9 L436.0 597.0 L437.0 598.1 L438.0 599.3 L439.0 600.6 L440.0 602.1 L441.0 603.6 L442.0 605.3 L443.0 607.2 L444.0 609.3 L445.0 611.5 L446.0 614.0 L447.0 616.8 L448.0 619.8 L449.0 623.1 L450.0 626.8 L451.0 630.9 L452.0 635.4 L453.0 640.4 L454.0 645.9 L455.0 651.9 L456.0 658.4 L457.0 665.4 L458.0 672.8 L459.0 680.7 L460.0 688.7 L461.0 696.6 L462.0 704.2 L463.0 711.1 L464.0 716.9 L465.0 721.1 L466.0 723.4 L467.0 723.7 L468.0 721.9 L469.0 718.3 L470.0 713.0 L471.0 706.5 L472.0 699.2 L473.0 691.4 L474.0 683.6 L475.0 675.9 L476.0 668.6 L477.0 661.7 L478.0 655.3 L479.0 649.4 L480.0 644.0 L481.0 639.2 L482.0 634.8 L483.0 630.9 L484.0 627.3 L485.0 624.2 L486.0 621.3 L487.0 618.8 L488.0 616.5 L489.0 614.5 L490.0 612.7 L491.0 611.1 L492.0 609.7 L493.0 608.4 L494.0 607.3 L495.0 606.3 L496.0 605.5 L497.0 604.8 L498.0 604.2 L499.0 603.7 L500.0 603.2 L501.0 602.9 L502.0 602.7 L503.0 602.6 L504.0 602.5 L505.0 602.6 L506.0 602.7 L507.0 603.0 L508.0 603.3 L509.0 603.7 L510.0 604.2 L511.0 604.8 L512.0 605.6 L513.0 606.4 L514.0 607.4 L515.0 608.5 L516.0 609.8 L517.0 611.2 L518.0 612.9 L519.0 614.7 L520.0 616.7 L521.0 619.0 L522.0 621.6 L523.0 624.5 L524.0 627.7 L525.0 631.2 L526.0 635.2 L527.0 639.6 L528.0 644.5 L529.0 649.9 L530.0 655.9 L531.0 662.3 L532.0 669.3 L533.0 676.7 L534.0 684.4 L535.0 692.2 L536.0 699.9 L537.0 707.2 L538.0 713.6 L539.0 718.7 L540.0 722.2 L541.0 723.8 L542.0 723.3 L543.0 720.7 L544.0 716.4 L545.0 710.5 L546.0 703.5 L547.0 695.9 L548.0 687.9 L549.0 679.9 L550.0 672.1 L551.0 664.7 L552.0 657.7 L553.0 651.2 L554.0 645.3 L555.0 639.9 L556.0 635.0 L557.0 630.5 L558.0 626.5 L559.0 622.8 L560.0 619.5 L561.0 616.5 L562.0 613.8 L563.0 611.3 L564.0 609.1 L565.0 607.0 L566.0 605.2 L567.0 603.5 L568.0 601.9 L569.0 600.5 L570.0 599.2 L571.0 598.0 L572.0 596.8 L573.0 595.8 L574.0 594.9 L575.0 594.0 L576.0 593.2 L577.0 592.4 L578.0 591.7 L579.0 591.0 L580.0 590.4 L581.0 589.9 L582.0 589.3 L583.0 588.8 L584.0 588.3 L585.0 587.9 L586.0 587.5 L587.0 587.1 L588.0 586.7 L589.0 586.3 L590.0 586.0 L591.0 585.7 L592.0 585.4 L593.0 585.1 L594.0 584.8 L595.0 584.6 L596.0 584.3 L597.0 584.1 L598.0 583.9 L599.0 583.7 L600.0 583.5 L601.0 583.3 L602.0 583.1 L603.0 582.9 L604.0 582.8 L605.0 582.6 L606.0 582.4 L607.0 582.3 L608.0 582.2 L609.0 582.0 L610.0 581.9 L611.0 581.8 L612.0 581.6 L613.0 581.5 L614.0 581.4 L615.0 581.3 L616.0 581.2 L617.0 581.1 L618.0 581.0 L619.0 580.9 L620.0 580.8 L621.0 580.7 L622.0 580.7 L623.0 580.6 L624.0 580.5 L625.0 580.4 L626.0 580.4 L627.0 580.3 L628.0 580.2 L629.0 580.2 L630.0 580.1 L631.0 580.0 L632.0 580.0 L633.0 579.9 L634.0 579.8 L635.0 579.8 L636.0 579.7 L637.0 579.7 L638.0 579.6 L639.0 579.6 L640.0 579.5 L641.0 579.5 L642.0 579.4 L643.0 579.4 L644.0 579.4 L645.0 579.3 L646.0 579.3 L647.0 579.2 L648.0 579.2 L649.0 579.2 L650.0 579.1 L651.0 579.1 L652.0 579.1 L653.0 579.0 L654.0 579.0 L655.0 579.0 L656.0 578.9 L657.0 578.9 L658.0 578.9 L659.0 578.8 L660.0 578.8 L661.0 578.8 L662.0 578.7 L663.0 578.7 L664.0 578.7 L665.0 578.7 L666.0 578.6 L667.0 578.6 L668.0 578.6 L669.0 578.6 L670.0 578.5 L671.0 578.5 L672.0 578.5 L673.0 578.5 L674.0 578.5 L675.0 578.4 L676.0 578.4 L677.0 578.4 L678.0 578.4 L679.0 578.4 L680.0 578.3 L681.0 578.3 L682.0 578.3 L683.0 578.3 L684.0 578.3 L685.0 578.3 L686.0 578.2 L687.0 578.2 L688.0 578.2 L689.0 578.2 L690.0 578.2 L691.0 578.2 L692.0 578.1 L693.0 578.1 L694.0 578.1 L695.0 578.1 L696.0 578.1 L697.0 578.1 L698.0 578.1 L699.0 578.0 L700.0 578.0 L701.0 578.0 L702.0 578.0 L703.0 578.0 L704.0 578.0 L705.0 578.0 L706.0 578.0 L707.0 578.0 L708.0 577.9 L709.0 577.9 L710.0 577.9 L711.0 577.9 L712.0 577.9 L713.0 577.9 L714.0 577.9 L715.0 577.9 L716.0 577.9 L717.0 577.8 L718.0 577.8 L719.0 577.8 L720.0 577.8 L721.0 577.8 L722.0 577.8 L723.0 577.8 L724.0 577.8 L725.0 577.8 L726.0 577.8 L727.0 577.8 L728.0 577.7 L729.0 577.7 L730.0 577.7 L731.0 577.7 L732.0 577.7 L733.0 577.7 L734.0 577.7 L735.0 577.7 L736.0 577.7 L737.0 577.7 L738.0 577.7 L739.0 577.7 L740.0 577.7 L741.0 577.7 L742.0 577.6 L743.0 577.6 L744.0 577.6 L745.0 577.6 L746.0 577.6 L747.0 577.6 L748.0 577.6 L749.0 577.6 L750.0 577.6 L751.0 577.6 L752.0 577.6 L753.0 577.6 L754.0 577.6 L755.0 577.6 L756.0 577.6 L757.0 577.6 L758.0 577.5 L759.0 577.5 L760.0 577.5 L761.0 577.5 L762.0 577.5 L763.0 577.5 L764.0 577.5 L765.0 577.5 L766.0 577.5 L767.0 577.5 L768.0 577.5 L769.0 577.5 L770.0 577.5 L771.0 577.5 L772.0 577.5 L773.0 577.5 L774.0 577.5 L775.0 577.5 L776.0 577.5 L777.0 577.5 L778.0 577.5 L779.0 577.4 L780.0 577.4 L781.0 577.4 L782.0 577.4 L783.0 577.4 L784.0 577.4 L785.0 577.4 L786.0 577.4 L787.0 577.4 L788.0 577.4 L789.0 577.4 L790.0 577.4 L791.0 577.4 L792.0 577.4 L793.0 577.4 L794.0 577.4 L795.0 577.4 L796.0 577.4 L797.0 577.4 L798.0 577.4 L799.0 577.4 L800.0 577.4 L801.0 577.4 L802.0 577.4 L803.0 577.4 L804.0 577.4 L805.0 577.4 L806.0 577.4 L807.0 577.3 L807.5 577.3" stroke="#0000ff" stroke-width="3.1" fill="none" stroke-linejoin="round"/>
<text x="110.2" y="54.3" font-size="37.0" text-anchor="start" textLength="18.3" lengthAdjust="spacingAndGlyphs" stroke="#000" stroke-width="0.4">a</text>
<text x="132.0" y="54.3" font-size="37.0" text-anchor="start" textLength="11.5" lengthAdjust="spacingAndGlyphs">)</text>
<text x="110.5" y="521.0" font-size="37.0" text-anchor="start" textLength="22.5" lengthAdjust="spacingAndGlyphs">b</text>
<text x="133.8" y="521.0" font-size="37.0" text-anchor="start" textLength="11.5" lengthAdjust="spacingAndGlyphs">)</text>
<text x="294.6" y="190.2" font-size="34.1" text-anchor="start" textLength="17.4" lengthAdjust="spacingAndGlyphs">2</text>
<text x="313.2" y="190.2" font-size="31.6" text-anchor="start" textLength="15.2" lengthAdjust="spacingAndGlyphs" stroke="#000" stroke-width="0.45">a</text>
<text x="294.8" y="656.6" font-size="34.1" text-anchor="start" textLength="17.4" lengthAdjust="spacingAndGlyphs">3</text>
<text x="313.4" y="656.6" font-size="31.6" text-anchor="start" textLength="15.2" lengthAdjust="spacingAndGlyphs" stroke="#000" stroke-width="0.45">a</text>
<text x="630.0" y="62.0" font-size="35.2" text-anchor="start" textLength="20.2" lengthAdjust="spacingAndGlyphs" font-style="italic" stroke="#000" stroke-width="0.3">δ</text>
<text x="720.1" y="61.6" font-size="32.4" text-anchor="start" textLength="21.3" lengthAdjust="spacingAndGlyphs" stroke="#000" stroke-width="0.3">Δ</text>
<text x="743.0" y="61.6" font-size="32.4" text-anchor="start" textLength="16.7" lengthAdjust="spacingAndGlyphs" font-style="italic" stroke="#000" stroke-width="0.6">E</text>
<text x="758.4" y="69.8" font-size="21.2" text-anchor="start" textLength="18.0" lengthAdjust="spacingAndGlyphs" font-style="italic" stroke="#000" stroke-width="0.3">Q</text>
<text x="614.4" y="196.0" font-size="30.1" text-anchor="start" textLength="58.4" lengthAdjust="spacingAndGlyphs">0.38</text>
<text x="723.7" y="196.0" font-size="30.1" text-anchor="start" textLength="58.4" lengthAdjust="spacingAndGlyphs">1.14</text>
<text x="614.4" y="234.6" font-size="30.1" text-anchor="start" textLength="58.4" lengthAdjust="spacingAndGlyphs">0.42</text>
<text x="604.9" y="234.6" font-size="29.8" text-anchor="start" textLength="8.4" lengthAdjust="spacingAndGlyphs">(</text>
<text x="673.8" y="234.6" font-size="29.8" text-anchor="start" textLength="8.4" lengthAdjust="spacingAndGlyphs">)</text>
<text x="723.7" y="234.6" font-size="30.1" text-anchor="start" textLength="58.4" lengthAdjust="spacingAndGlyphs">0.56</text>
<text x="714.2" y="234.6" font-size="29.8" text-anchor="start" textLength="8.4" lengthAdjust="spacingAndGlyphs">(</text>
<text x="783.1" y="234.6" font-size="29.8" text-anchor="start" textLength="8.4" lengthAdjust="spacingAndGlyphs">)</text>
<text x="614.4" y="273.1" font-size="30.1" text-anchor="start" textLength="58.4" lengthAdjust="spacingAndGlyphs">0.28</text>
<text x="723.7" y="273.1" font-size="30.1" text-anchor="start" textLength="58.4" lengthAdjust="spacingAndGlyphs">0.68</text>
<text x="614.4" y="311.6" font-size="30.1" text-anchor="start" textLength="58.4" lengthAdjust="spacingAndGlyphs">0.28</text>
<text x="604.9" y="311.6" font-size="29.8" text-anchor="start" textLength="8.4" lengthAdjust="spacingAndGlyphs">(</text>
<text x="673.8" y="311.6" font-size="29.8" text-anchor="start" textLength="8.4" lengthAdjust="spacingAndGlyphs">)</text>
<text x="723.7" y="311.6" font-size="30.1" text-anchor="start" textLength="58.4" lengthAdjust="spacingAndGlyphs">0.66</text>
<text x="714.2" y="311.6" font-size="29.8" text-anchor="start" textLength="8.4" lengthAdjust="spacingAndGlyphs">(</text>
<text x="783.1" y="311.6" font-size="29.8" text-anchor="start" textLength="8.4" lengthAdjust="spacingAndGlyphs">)</text>
<text x="611.5" y="662.3" font-size="30.1" text-anchor="start" textLength="58.4" lengthAdjust="spacingAndGlyphs">0.38</text>
<text x="723.7" y="662.3" font-size="30.1" text-anchor="start" textLength="58.4" lengthAdjust="spacingAndGlyphs">1.26</text>
<text x="611.5" y="700.8" font-size="30.1" text-anchor="start" textLength="58.4" lengthAdjust="spacingAndGlyphs">0.39</text>
<text x="602.0" y="700.8" font-size="29.8" text-anchor="start" textLength="8.4" lengthAdjust="spacingAndGlyphs">(</text>
<text x="670.9" y="700.8" font-size="29.8" text-anchor="start" textLength="8.4" lengthAdjust="spacingAndGlyphs">)</text>
<text x="723.7" y="700.8" font-size="30.1" text-anchor="start" textLength="58.4" lengthAdjust="spacingAndGlyphs">1.27</text>
<text x="714.2" y="700.8" font-size="29.8" text-anchor="start" textLength="8.4" lengthAdjust="spacingAndGlyphs">(</text>
<text x="783.1" y="700.8" font-size="29.8" text-anchor="start" textLength="8.4" lengthAdjust="spacingAndGlyphs">)</text>
<text x="611.5" y="739.4" font-size="30.1" text-anchor="start" textLength="58.4" lengthAdjust="spacingAndGlyphs">0.29</text>
<text x="723.7" y="739.4" font-size="30.1" text-anchor="start" textLength="58.4" lengthAdjust="spacingAndGlyphs">0.90</text>
<text x="611.5" y="777.9" font-size="30.1" text-anchor="start" textLength="58.4" lengthAdjust="spacingAndGlyphs">0.25</text>
<text x="602.0" y="777.9" font-size="29.8" text-anchor="start" textLength="8.4" lengthAdjust="spacingAndGlyphs">(</text>
<text x="670.9" y="777.9" font-size="29.8" text-anchor="start" textLength="8.4" lengthAdjust="spacingAndGlyphs">)</text>
<text x="723.7" y="777.9" font-size="30.1" text-anchor="start" textLength="58.4" lengthAdjust="spacingAndGlyphs">0.98</text>
<text x="714.2" y="777.9" font-size="29.8" text-anchor="start" textLength="8.4" lengthAdjust="spacingAndGlyphs">(</text>
<text x="783.1" y="777.9" font-size="29.8" text-anchor="start" textLength="8.4" lengthAdjust="spacingAndGlyphs">)</text>
<path d="M153.5 941.0H809.5" stroke="#000" stroke-width="3.2"/>
<path d="M184.1 941.0v4.3" stroke="#000" stroke-width="3.2" stroke-linecap="round"/>
<path d="M243.5 941.0v8.8" stroke="#000" stroke-width="3.2" stroke-linecap="round"/>
<text x="243.5" y="975.8" font-size="24.3" text-anchor="middle">-4</text>
<path d="M302.9 941.0v4.3" stroke="#000" stroke-width="3.2" stroke-linecap="round"/>
<path d="M362.3 941.0v8.8" stroke="#000" stroke-width="3.2" stroke-linecap="round"/>
<text x="362.3" y="975.8" font-size="24.3" text-anchor="middle">-2</text>
<path d="M421.7 941.0v4.3" stroke="#000" stroke-width="3.2" stroke-linecap="round"/>
<path d="M481.1 941.0v8.8" stroke="#000" stroke-width="3.2" stroke-linecap="round"/>
<text x="481.1" y="975.8" font-size="24.3" text-anchor="middle">0</text>
<path d="M540.5 941.0v4.3" stroke="#000" stroke-width="3.2" stroke-linecap="round"/>
<path d="M599.9 941.0v8.8" stroke="#000" stroke-width="3.2" stroke-linecap="round"/>
<text x="599.9" y="975.8" font-size="24.3" text-anchor="middle">2</text>
<path d="M659.3 941.0v4.3" stroke="#000" stroke-width="3.2" stroke-linecap="round"/>
<path d="M718.7 941.0v8.8" stroke="#000" stroke-width="3.2" stroke-linecap="round"/>
<text x="718.7" y="975.8" font-size="24.3" text-anchor="middle">4</text>
<path d="M778.1 941.0v4.3" stroke="#000" stroke-width="3.2" stroke-linecap="round"/>
<text x="481.3" y="1025.5" font-size="30.5" text-anchor="middle">Velocity (mm/s)</text>
<text class="cap" x="10.3" y="1092.0" font-size="33.0" word-spacing="0.00" textLength="901.7" lengthAdjust="spacingAndGlyphs" xml:space="preserve"><tspan class="b">Figure 2.</tspan> Zero-field Mössbauer spectra of complexes <tspan class="b">2a</tspan> and <tspan class="b">3a</tspan> in the</text>
<text class="cap" x="10.3" y="1129.4" font-size="33.0" word-spacing="0.38" xml:space="preserve">solid state recorded at 80 K. The dotted line shows the experimental</text>
<text class="cap" x="10.3" y="1166.8" font-size="33.0" word-spacing="4.41" xml:space="preserve">data and the solid line is the fitted curve using the corresponding</text>
<text class="cap" x="10.3" y="1204.2" font-size="33.0" word-spacing="3.07" xml:space="preserve">parameters of isomer shift (<tspan class="i">δ</tspan>) and quadrupole splitting (Δ<tspan class="i">E</tspan><tspan class="i" font-size="23" dy="6">Q</tspan><tspan dy="-6">). The</tspan></text>
<text class="cap" x="10.3" y="1241.6" font-size="33.0" word-spacing="0.70" xml:space="preserve">parameters in parentheses represent the calculated values by DFT.</text>
</svg></body></html>
